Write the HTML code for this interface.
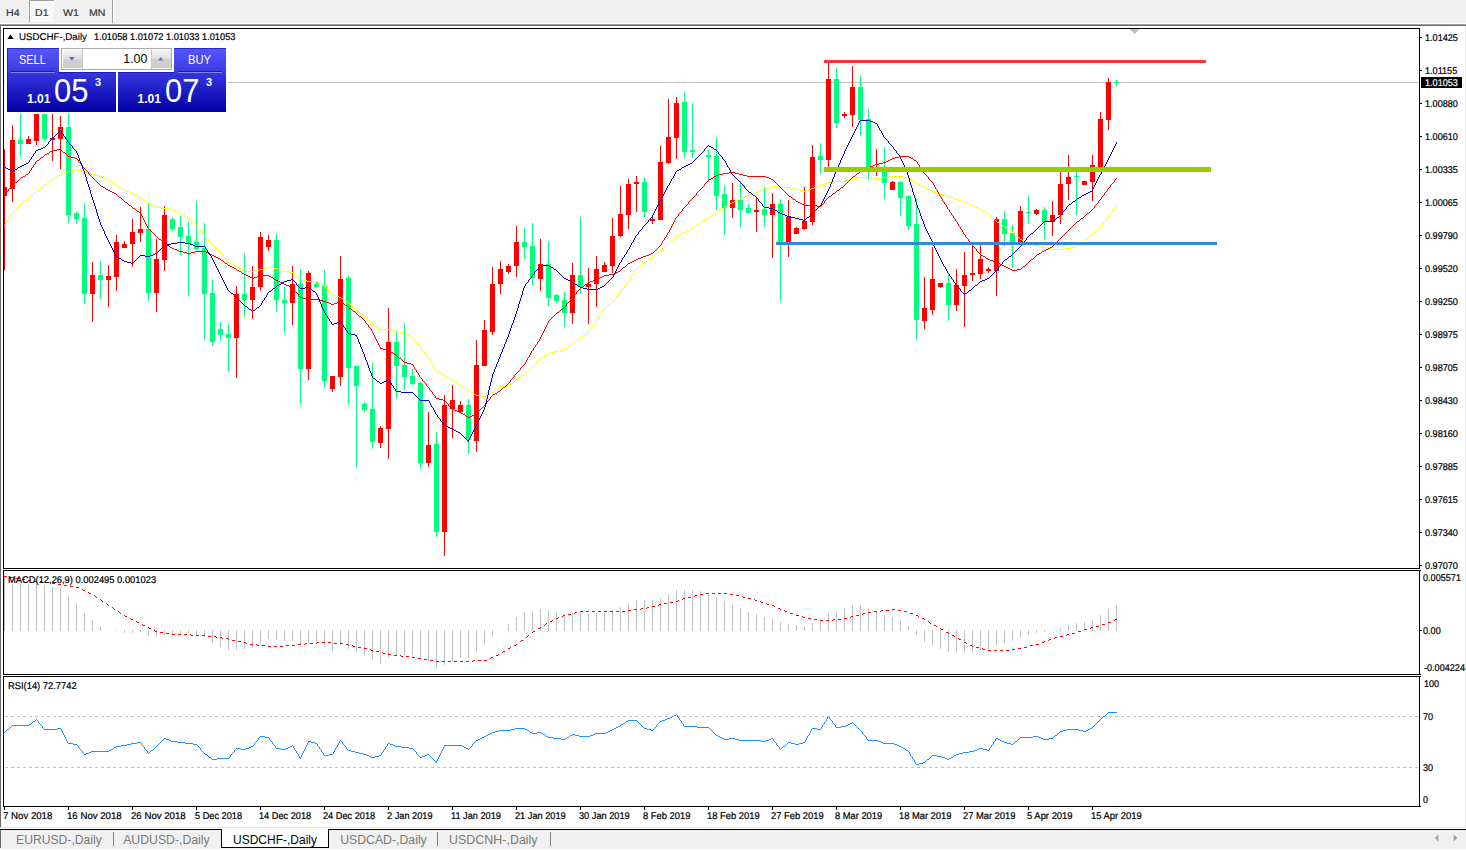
<!DOCTYPE html>
<html><head><meta charset="utf-8"><title>USDCHF-,Daily</title>
<style>
html,body{margin:0;padding:0;}
body{width:1466px;height:851px;overflow:hidden;background:#fff;position:relative;font-family:"Liberation Sans",sans-serif;}
.t{position:absolute;white-space:nowrap;font-family:"Liberation Sans",sans-serif;}
.k{-webkit-text-stroke:0.22px #000;text-rendering:geometricPrecision;}
.abs{position:absolute;}
#tb{left:0;top:0;width:1466px;height:23px;background:#f0f0f0;}
.tf{position:absolute;top:8.7px;font-size:9.8px;line-height:9.8px;color:#383838;text-rendering:geometricPrecision;-webkit-text-stroke:0.2px #383838;transform:scaleX(1.08);transform-origin:0 0;white-space:nowrap;}
.tab{position:absolute;top:833.2px;font-size:12px;line-height:15px;color:#7a7a7a;}
.sep{position:absolute;top:832px;width:1px;height:14px;background:#808080;}
</style></head><body>
<!-- top toolbar -->
<div class="abs" id="tb"></div>
<div class="abs" style="left:0;top:23px;width:1466px;height:1px;background:#f8f8f8"></div>
<div class="abs" style="left:0;top:24px;width:1466px;height:1px;background:#a0a0a0"></div>
<div class="abs" style="left:0;top:25px;width:1466px;height:1px;background:#696969"></div>
<div class="abs" style="left:29px;top:0;width:25px;height:22px;background:#f8f8f8;border-top:1px solid #a0a0a0;border-left:1px solid #a0a0a0;box-sizing:border-box"></div>
<div class="tf" style="left:5.9px">H4</div><div class="tf" style="left:35px">D1</div><div class="tf" style="left:63px">W1</div><div class="tf" style="left:88.9px">MN</div>
<div class="abs" style="left:112px;top:0;width:1px;height:23px;background:#a0a0a0"></div>
<div class="abs" style="left:113px;top:0;width:1px;height:23px;background:#fff"></div>
<!-- window left edge -->
<div class="abs" style="left:0;top:25px;width:1px;height:802px;background:#696969"></div>
<div class="abs" style="left:1465px;top:26px;width:1px;height:802px;background:#e3e3e3"></div>
<svg class="abs" style="left:0;top:0" width="1466" height="851" viewBox="0 0 1466 851" shape-rendering="crispEdges">
<rect x="4" y="82" width="1415" height="1" fill="#c0c0c0"/>
<rect x="4" y="149" width="1" height="121" fill="#ff0000"/>
<rect x="4" y="187" width="3" height="9" fill="#ff0000"/>
<rect x="12" y="125" width="1" height="77" fill="#ff0000"/>
<rect x="10" y="140" width="5" height="49" fill="#ff0000"/>
<rect x="20" y="114" width="1" height="43" fill="#00ff7f"/>
<rect x="18" y="140" width="5" height="4" fill="#00ff7f"/>
<rect x="28" y="136" width="1" height="8" fill="#ff0000"/>
<rect x="26" y="139" width="5" height="5" fill="#ff0000"/>
<rect x="36" y="114" width="1" height="31" fill="#ff0000"/>
<rect x="34" y="114" width="5" height="27" fill="#ff0000"/>
<rect x="44" y="114" width="1" height="27" fill="#00ff7f"/>
<rect x="42" y="114" width="5" height="25" fill="#00ff7f"/>
<rect x="52" y="114" width="1" height="47" fill="#ff0000"/>
<rect x="50" y="138" width="5" height="2" fill="#ff0000"/>
<rect x="60" y="116" width="1" height="53" fill="#ff0000"/>
<rect x="58" y="127" width="5" height="12" fill="#ff0000"/>
<rect x="68" y="114" width="1" height="109" fill="#00ff7f"/>
<rect x="66" y="127" width="5" height="88" fill="#00ff7f"/>
<rect x="76" y="211" width="1" height="13" fill="#00ff7f"/>
<rect x="74" y="213" width="5" height="6" fill="#00ff7f"/>
<rect x="84" y="203" width="1" height="101" fill="#00ff7f"/>
<rect x="82" y="218" width="5" height="76" fill="#00ff7f"/>
<rect x="92" y="262" width="1" height="60" fill="#ff0000"/>
<rect x="90" y="275" width="5" height="19" fill="#ff0000"/>
<rect x="100" y="261" width="1" height="38" fill="#00ff7f"/>
<rect x="98" y="275" width="5" height="5" fill="#00ff7f"/>
<rect x="108" y="265" width="1" height="42" fill="#ff0000"/>
<rect x="106" y="276" width="5" height="4" fill="#ff0000"/>
<rect x="116" y="235" width="1" height="56" fill="#ff0000"/>
<rect x="114" y="242" width="5" height="35" fill="#ff0000"/>
<rect x="124" y="241" width="1" height="7" fill="#ff0000"/>
<rect x="122" y="244" width="5" height="4" fill="#ff0000"/>
<rect x="132" y="219" width="1" height="48" fill="#ff0000"/>
<rect x="130" y="232" width="5" height="12" fill="#ff0000"/>
<rect x="140" y="207" width="1" height="35" fill="#ff0000"/>
<rect x="138" y="229" width="5" height="4" fill="#ff0000"/>
<rect x="148" y="204" width="1" height="97" fill="#00ff7f"/>
<rect x="146" y="229" width="5" height="64" fill="#00ff7f"/>
<rect x="156" y="239" width="1" height="73" fill="#ff0000"/>
<rect x="154" y="259" width="5" height="34" fill="#ff0000"/>
<rect x="164" y="206" width="1" height="65" fill="#ff0000"/>
<rect x="162" y="215" width="5" height="45" fill="#ff0000"/>
<rect x="172" y="217" width="1" height="14" fill="#00ff7f"/>
<rect x="170" y="219" width="5" height="10" fill="#00ff7f"/>
<rect x="180" y="216" width="1" height="39" fill="#00ff7f"/>
<rect x="178" y="227" width="5" height="10" fill="#00ff7f"/>
<rect x="188" y="222" width="1" height="74" fill="#00ff7f"/>
<rect x="186" y="236" width="5" height="8" fill="#00ff7f"/>
<rect x="196" y="201" width="1" height="49" fill="#00ff7f"/>
<rect x="194" y="242" width="5" height="7" fill="#00ff7f"/>
<rect x="204" y="223" width="1" height="117" fill="#00ff7f"/>
<rect x="202" y="248" width="5" height="46" fill="#00ff7f"/>
<rect x="212" y="280" width="1" height="66" fill="#00ff7f"/>
<rect x="210" y="293" width="5" height="49" fill="#00ff7f"/>
<rect x="220" y="322" width="1" height="19" fill="#00ff7f"/>
<rect x="218" y="329" width="5" height="6" fill="#00ff7f"/>
<rect x="228" y="324" width="1" height="48" fill="#00ff7f"/>
<rect x="226" y="334" width="5" height="4" fill="#00ff7f"/>
<rect x="236" y="286" width="1" height="92" fill="#ff0000"/>
<rect x="234" y="294" width="5" height="44" fill="#ff0000"/>
<rect x="244" y="253" width="1" height="64" fill="#00ff7f"/>
<rect x="242" y="294" width="5" height="6" fill="#00ff7f"/>
<rect x="252" y="266" width="1" height="53" fill="#ff0000"/>
<rect x="250" y="287" width="5" height="13" fill="#ff0000"/>
<rect x="260" y="232" width="1" height="59" fill="#ff0000"/>
<rect x="258" y="237" width="5" height="50" fill="#ff0000"/>
<rect x="268" y="235" width="1" height="16" fill="#ff0000"/>
<rect x="266" y="240" width="5" height="7" fill="#ff0000"/>
<rect x="276" y="234" width="1" height="78" fill="#00ff7f"/>
<rect x="274" y="240" width="5" height="60" fill="#00ff7f"/>
<rect x="284" y="287" width="1" height="46" fill="#00ff7f"/>
<rect x="282" y="300" width="5" height="3" fill="#00ff7f"/>
<rect x="292" y="266" width="1" height="59" fill="#ff0000"/>
<rect x="290" y="284" width="5" height="19" fill="#ff0000"/>
<rect x="300" y="269" width="1" height="136" fill="#00ff7f"/>
<rect x="298" y="284" width="5" height="85" fill="#00ff7f"/>
<rect x="308" y="271" width="1" height="109" fill="#ff0000"/>
<rect x="306" y="273" width="5" height="96" fill="#ff0000"/>
<rect x="316" y="282" width="1" height="6" fill="#00ff7f"/>
<rect x="314" y="284" width="5" height="3" fill="#00ff7f"/>
<rect x="324" y="270" width="1" height="118" fill="#00ff7f"/>
<rect x="322" y="286" width="5" height="95" fill="#00ff7f"/>
<rect x="332" y="376" width="1" height="16" fill="#ff0000"/>
<rect x="330" y="376" width="5" height="13" fill="#ff0000"/>
<rect x="340" y="256" width="1" height="130" fill="#ff0000"/>
<rect x="338" y="279" width="5" height="98" fill="#ff0000"/>
<rect x="348" y="276" width="1" height="129" fill="#00ff7f"/>
<rect x="346" y="278" width="5" height="90" fill="#00ff7f"/>
<rect x="356" y="366" width="1" height="101" fill="#00ff7f"/>
<rect x="354" y="366" width="5" height="20" fill="#00ff7f"/>
<rect x="364" y="402" width="1" height="10" fill="#00ff7f"/>
<rect x="362" y="404" width="5" height="6" fill="#00ff7f"/>
<rect x="372" y="363" width="1" height="86" fill="#00ff7f"/>
<rect x="370" y="409" width="5" height="33" fill="#00ff7f"/>
<rect x="380" y="426" width="1" height="22" fill="#ff0000"/>
<rect x="378" y="428" width="5" height="15" fill="#ff0000"/>
<rect x="388" y="308" width="1" height="151" fill="#ff0000"/>
<rect x="386" y="342" width="5" height="87" fill="#ff0000"/>
<rect x="396" y="332" width="1" height="66" fill="#00ff7f"/>
<rect x="394" y="342" width="5" height="24" fill="#00ff7f"/>
<rect x="404" y="323" width="1" height="67" fill="#00ff7f"/>
<rect x="402" y="365" width="5" height="12" fill="#00ff7f"/>
<rect x="412" y="369" width="1" height="16" fill="#00ff7f"/>
<rect x="410" y="376" width="5" height="8" fill="#00ff7f"/>
<rect x="420" y="382" width="1" height="87" fill="#00ff7f"/>
<rect x="418" y="383" width="5" height="80" fill="#00ff7f"/>
<rect x="428" y="412" width="1" height="55" fill="#ff0000"/>
<rect x="426" y="445" width="5" height="18" fill="#ff0000"/>
<rect x="436" y="432" width="1" height="105" fill="#00ff7f"/>
<rect x="434" y="444" width="5" height="88" fill="#00ff7f"/>
<rect x="444" y="395" width="1" height="161" fill="#ff0000"/>
<rect x="442" y="405" width="5" height="127" fill="#ff0000"/>
<rect x="452" y="385" width="1" height="53" fill="#ff0000"/>
<rect x="450" y="400" width="5" height="9" fill="#ff0000"/>
<rect x="460" y="401" width="1" height="11" fill="#ff0000"/>
<rect x="458" y="405" width="5" height="7" fill="#ff0000"/>
<rect x="468" y="399" width="1" height="55" fill="#00ff7f"/>
<rect x="466" y="405" width="5" height="35" fill="#00ff7f"/>
<rect x="476" y="340" width="1" height="112" fill="#ff0000"/>
<rect x="474" y="365" width="5" height="76" fill="#ff0000"/>
<rect x="484" y="320" width="1" height="46" fill="#ff0000"/>
<rect x="482" y="330" width="5" height="36" fill="#ff0000"/>
<rect x="492" y="267" width="1" height="68" fill="#ff0000"/>
<rect x="490" y="284" width="5" height="48" fill="#ff0000"/>
<rect x="500" y="261" width="1" height="33" fill="#ff0000"/>
<rect x="498" y="269" width="5" height="15" fill="#ff0000"/>
<rect x="508" y="264" width="1" height="10" fill="#ff0000"/>
<rect x="506" y="266" width="5" height="6" fill="#ff0000"/>
<rect x="516" y="226" width="1" height="51" fill="#ff0000"/>
<rect x="514" y="242" width="5" height="24" fill="#ff0000"/>
<rect x="524" y="228" width="1" height="31" fill="#00ff7f"/>
<rect x="522" y="242" width="5" height="5" fill="#00ff7f"/>
<rect x="532" y="223" width="1" height="62" fill="#00ff7f"/>
<rect x="530" y="246" width="5" height="32" fill="#00ff7f"/>
<rect x="540" y="239" width="1" height="52" fill="#ff0000"/>
<rect x="538" y="264" width="5" height="15" fill="#ff0000"/>
<rect x="548" y="242" width="1" height="64" fill="#00ff7f"/>
<rect x="546" y="264" width="5" height="34" fill="#00ff7f"/>
<rect x="556" y="294" width="1" height="9" fill="#00ff7f"/>
<rect x="554" y="295" width="5" height="6" fill="#00ff7f"/>
<rect x="564" y="292" width="1" height="35" fill="#00ff7f"/>
<rect x="562" y="300" width="5" height="13" fill="#00ff7f"/>
<rect x="572" y="263" width="1" height="61" fill="#ff0000"/>
<rect x="570" y="275" width="5" height="38" fill="#ff0000"/>
<rect x="580" y="217" width="1" height="77" fill="#00ff7f"/>
<rect x="578" y="275" width="5" height="12" fill="#00ff7f"/>
<rect x="588" y="268" width="1" height="56" fill="#ff0000"/>
<rect x="586" y="284" width="5" height="3" fill="#ff0000"/>
<rect x="596" y="256" width="1" height="51" fill="#ff0000"/>
<rect x="594" y="269" width="5" height="15" fill="#ff0000"/>
<rect x="604" y="262" width="1" height="10" fill="#ff0000"/>
<rect x="602" y="265" width="5" height="7" fill="#ff0000"/>
<rect x="612" y="218" width="1" height="55" fill="#ff0000"/>
<rect x="610" y="236" width="5" height="30" fill="#ff0000"/>
<rect x="620" y="186" width="1" height="51" fill="#ff0000"/>
<rect x="618" y="214" width="5" height="22" fill="#ff0000"/>
<rect x="628" y="179" width="1" height="50" fill="#ff0000"/>
<rect x="626" y="184" width="5" height="31" fill="#ff0000"/>
<rect x="636" y="176" width="1" height="36" fill="#ff0000"/>
<rect x="634" y="182" width="5" height="2" fill="#ff0000"/>
<rect x="644" y="178" width="1" height="39" fill="#00ff7f"/>
<rect x="642" y="182" width="5" height="30" fill="#00ff7f"/>
<rect x="652" y="217" width="1" height="7" fill="#ff0000"/>
<rect x="650" y="219" width="5" height="2" fill="#ff0000"/>
<rect x="660" y="146" width="1" height="74" fill="#ff0000"/>
<rect x="658" y="162" width="5" height="58" fill="#ff0000"/>
<rect x="668" y="99" width="1" height="65" fill="#ff0000"/>
<rect x="666" y="137" width="5" height="26" fill="#ff0000"/>
<rect x="676" y="97" width="1" height="62" fill="#ff0000"/>
<rect x="674" y="103" width="5" height="35" fill="#ff0000"/>
<rect x="684" y="92" width="1" height="66" fill="#00ff7f"/>
<rect x="682" y="102" width="5" height="50" fill="#00ff7f"/>
<rect x="692" y="103" width="1" height="55" fill="#00ff7f"/>
<rect x="690" y="150" width="5" height="2" fill="#00ff7f"/>
<rect x="708" y="150" width="1" height="32" fill="#00ff7f"/>
<rect x="706" y="155" width="5" height="2" fill="#00ff7f"/>
<rect x="716" y="138" width="1" height="72" fill="#00ff7f"/>
<rect x="714" y="156" width="5" height="40" fill="#00ff7f"/>
<rect x="724" y="186" width="1" height="49" fill="#00ff7f"/>
<rect x="722" y="194" width="5" height="14" fill="#00ff7f"/>
<rect x="732" y="183" width="1" height="35" fill="#ff0000"/>
<rect x="730" y="200" width="5" height="8" fill="#ff0000"/>
<rect x="740" y="181" width="1" height="46" fill="#00ff7f"/>
<rect x="738" y="200" width="5" height="10" fill="#00ff7f"/>
<rect x="748" y="204" width="1" height="9" fill="#00ff7f"/>
<rect x="746" y="208" width="5" height="5" fill="#00ff7f"/>
<rect x="756" y="198" width="1" height="34" fill="#ff0000"/>
<rect x="754" y="210" width="5" height="2" fill="#ff0000"/>
<rect x="764" y="187" width="1" height="40" fill="#00ff7f"/>
<rect x="762" y="209" width="5" height="6" fill="#00ff7f"/>
<rect x="772" y="193" width="1" height="65" fill="#ff0000"/>
<rect x="770" y="204" width="5" height="11" fill="#ff0000"/>
<rect x="780" y="199" width="1" height="102" fill="#00ff7f"/>
<rect x="778" y="204" width="5" height="38" fill="#00ff7f"/>
<rect x="788" y="200" width="1" height="57" fill="#ff0000"/>
<rect x="786" y="217" width="5" height="25" fill="#ff0000"/>
<rect x="796" y="227" width="1" height="7" fill="#ff0000"/>
<rect x="794" y="228" width="5" height="6" fill="#ff0000"/>
<rect x="804" y="187" width="1" height="43" fill="#ff0000"/>
<rect x="802" y="221" width="5" height="8" fill="#ff0000"/>
<rect x="812" y="145" width="1" height="80" fill="#ff0000"/>
<rect x="810" y="157" width="5" height="65" fill="#ff0000"/>
<rect x="820" y="143" width="1" height="31" fill="#00ff7f"/>
<rect x="818" y="156" width="5" height="4" fill="#00ff7f"/>
<rect x="828" y="62" width="1" height="105" fill="#ff0000"/>
<rect x="826" y="79" width="5" height="81" fill="#ff0000"/>
<rect x="836" y="68" width="1" height="60" fill="#00ff7f"/>
<rect x="834" y="79" width="5" height="44" fill="#00ff7f"/>
<rect x="844" y="112" width="1" height="6" fill="#ff0000"/>
<rect x="842" y="114" width="5" height="2" fill="#ff0000"/>
<rect x="852" y="66" width="1" height="61" fill="#ff0000"/>
<rect x="850" y="87" width="5" height="28" fill="#ff0000"/>
<rect x="860" y="75" width="1" height="61" fill="#00ff7f"/>
<rect x="858" y="87" width="5" height="33" fill="#00ff7f"/>
<rect x="868" y="109" width="1" height="71" fill="#00ff7f"/>
<rect x="866" y="119" width="5" height="49" fill="#00ff7f"/>
<rect x="876" y="149" width="1" height="27" fill="#ff0000"/>
<rect x="874" y="168" width="5" height="3" fill="#ff0000"/>
<rect x="884" y="147" width="1" height="52" fill="#00ff7f"/>
<rect x="882" y="172" width="5" height="11" fill="#00ff7f"/>
<rect x="892" y="181" width="1" height="9" fill="#ff0000"/>
<rect x="890" y="182" width="5" height="8" fill="#ff0000"/>
<rect x="900" y="181" width="1" height="35" fill="#00ff7f"/>
<rect x="898" y="182" width="5" height="16" fill="#00ff7f"/>
<rect x="908" y="195" width="1" height="35" fill="#00ff7f"/>
<rect x="906" y="196" width="5" height="30" fill="#00ff7f"/>
<rect x="916" y="199" width="1" height="141" fill="#00ff7f"/>
<rect x="914" y="224" width="5" height="96" fill="#00ff7f"/>
<rect x="924" y="277" width="1" height="52" fill="#ff0000"/>
<rect x="922" y="308" width="5" height="13" fill="#ff0000"/>
<rect x="932" y="247" width="1" height="68" fill="#ff0000"/>
<rect x="930" y="279" width="5" height="31" fill="#ff0000"/>
<rect x="940" y="283" width="1" height="5" fill="#ff0000"/>
<rect x="938" y="283" width="5" height="4" fill="#ff0000"/>
<rect x="948" y="275" width="1" height="46" fill="#00ff7f"/>
<rect x="946" y="283" width="5" height="22" fill="#00ff7f"/>
<rect x="956" y="269" width="1" height="42" fill="#ff0000"/>
<rect x="954" y="285" width="5" height="20" fill="#ff0000"/>
<rect x="964" y="252" width="1" height="75" fill="#ff0000"/>
<rect x="962" y="275" width="5" height="11" fill="#ff0000"/>
<rect x="972" y="245" width="1" height="36" fill="#ff0000"/>
<rect x="970" y="273" width="5" height="2" fill="#ff0000"/>
<rect x="980" y="245" width="1" height="34" fill="#ff0000"/>
<rect x="978" y="259" width="5" height="15" fill="#ff0000"/>
<rect x="988" y="267" width="1" height="6" fill="#ff0000"/>
<rect x="986" y="269" width="5" height="2" fill="#ff0000"/>
<rect x="996" y="217" width="1" height="79" fill="#ff0000"/>
<rect x="994" y="219" width="5" height="52" fill="#ff0000"/>
<rect x="1004" y="211" width="1" height="35" fill="#00ff7f"/>
<rect x="1002" y="219" width="5" height="15" fill="#00ff7f"/>
<rect x="1012" y="225" width="1" height="43" fill="#00ff7f"/>
<rect x="1010" y="233" width="5" height="10" fill="#00ff7f"/>
<rect x="1020" y="206" width="1" height="37" fill="#ff0000"/>
<rect x="1018" y="211" width="5" height="32" fill="#ff0000"/>
<rect x="1028" y="196" width="1" height="28" fill="#00ff7f"/>
<rect x="1026" y="212" width="5" height="1" fill="#00ff7f"/>
<rect x="1036" y="209" width="1" height="6" fill="#ff0000"/>
<rect x="1034" y="210" width="5" height="4" fill="#ff0000"/>
<rect x="1044" y="207" width="1" height="32" fill="#00ff7f"/>
<rect x="1042" y="210" width="5" height="12" fill="#00ff7f"/>
<rect x="1052" y="201" width="1" height="35" fill="#ff0000"/>
<rect x="1050" y="215" width="5" height="7" fill="#ff0000"/>
<rect x="1060" y="171" width="1" height="53" fill="#ff0000"/>
<rect x="1058" y="184" width="5" height="31" fill="#ff0000"/>
<rect x="1068" y="155" width="1" height="45" fill="#ff0000"/>
<rect x="1066" y="177" width="5" height="7" fill="#ff0000"/>
<rect x="1076" y="171" width="1" height="44" fill="#00ff7f"/>
<rect x="1074" y="176" width="5" height="1" fill="#00ff7f"/>
<rect x="1084" y="181" width="1" height="4" fill="#ff0000"/>
<rect x="1082" y="181" width="5" height="4" fill="#ff0000"/>
<rect x="1092" y="155" width="1" height="46" fill="#ff0000"/>
<rect x="1090" y="165" width="5" height="17" fill="#ff0000"/>
<rect x="1100" y="112" width="1" height="56" fill="#ff0000"/>
<rect x="1098" y="119" width="5" height="49" fill="#ff0000"/>
<rect x="1108" y="78" width="1" height="52" fill="#ff0000"/>
<rect x="1106" y="82" width="5" height="38" fill="#ff0000"/>
<rect x="1116" y="80" width="1" height="6" fill="#00ff7f"/><rect x="1114" y="82" width="5" height="1" fill="#00ff7f"/>
<path d="M75 169h3v1h-3zM71 170h4v1h-4zM78 170h3v1h-3zM67 171h4v1h-4zM81 171h2v1h-2zM65 172h2v1h-2zM83 172h4v1h-4zM62 173h3v1h-3zM87 173h4v1h-4zM60 174h2v1h-2zM91 174h4v1h-4zM58 175h2v1h-2zM95 175h4v1h-4zM57 176h1v1h-1zM99 176h3v1h-3zM889 176h14v1h-14zM55 177h2v1h-2zM102 177h2v1h-2zM857 177h16v1h-16zM881 177h8v1h-8zM903 177h4v1h-4zM53 178h2v1h-2zM104 178h2v1h-2zM851 178h6v1h-6zM873 178h8v1h-8zM907 178h2v1h-2zM52 179h1v1h-1zM106 179h2v1h-2zM849 179h2v1h-2zM909 179h2v1h-2zM51 180h1v1h-1zM108 180h1v1h-1zM846 180h3v1h-3zM911 180h2v1h-2zM49 181h2v1h-2zM109 181h2v1h-2zM833 181h13v1h-13zM913 181h1v1h-1zM48 182h1v1h-1zM111 182h2v1h-2zM827 182h6v1h-6zM914 182h2v1h-2zM47 183h1v1h-1zM113 183h1v1h-1zM825 183h2v1h-2zM916 183h2v1h-2zM45 184h2v1h-2zM114 184h2v1h-2zM822 184h3v1h-3zM918 184h2v1h-2zM44 185h1v1h-1zM116 185h1v1h-1zM819 185h3v1h-3zM920 185h2v1h-2zM43 186h1v1h-1zM117 186h2v1h-2zM771 186h6v1h-6zM817 186h2v1h-2zM922 186h2v1h-2zM41 187h2v1h-2zM119 187h2v1h-2zM769 187h2v1h-2zM777 187h14v1h-14zM814 187h3v1h-3zM924 187h2v1h-2zM40 188h1v1h-1zM121 188h1v1h-1zM766 188h3v1h-3zM791 188h4v1h-4zM811 188h3v1h-3zM926 188h2v1h-2zM39 189h1v1h-1zM122 189h2v1h-2zM763 189h3v1h-3zM795 189h4v1h-4zM809 189h2v1h-2zM928 189h2v1h-2zM37 190h2v1h-2zM124 190h2v1h-2zM761 190h2v1h-2zM799 190h4v1h-4zM806 190h3v1h-3zM930 190h2v1h-2zM36 191h1v1h-1zM126 191h3v1h-3zM758 191h3v1h-3zM803 191h3v1h-3zM932 191h2v1h-2zM35 192h1v1h-1zM129 192h2v1h-2zM755 192h3v1h-3zM934 192h3v1h-3zM34 193h1v1h-1zM131 193h2v1h-2zM753 193h2v1h-2zM937 193h2v1h-2zM33 194h1v1h-1zM133 194h2v1h-2zM750 194h3v1h-3zM939 194h4v1h-4zM31 195h2v1h-2zM135 195h2v1h-2zM747 195h3v1h-3zM943 195h4v1h-4zM30 196h1v1h-1zM137 196h1v1h-1zM745 196h2v1h-2zM947 196h3v1h-3zM29 197h1v1h-1zM138 197h2v1h-2zM742 197h3v1h-3zM950 197h3v1h-3zM28 198h1v1h-1zM140 198h1v1h-1zM740 198h2v1h-2zM953 198h2v1h-2zM27 199h1v1h-1zM141 199h2v1h-2zM738 199h2v1h-2zM955 199h3v1h-3zM25 200h2v1h-2zM143 200h2v1h-2zM736 200h2v1h-2zM958 200h3v1h-3zM24 201h1v1h-1zM145 201h1v1h-1zM734 201h2v1h-2zM961 201h2v1h-2zM23 202h1v1h-1zM146 202h2v1h-2zM732 202h2v1h-2zM963 202h3v1h-3zM21 203h2v1h-2zM148 203h2v1h-2zM730 203h2v1h-2zM966 203h3v1h-3zM20 204h1v1h-1zM150 204h2v1h-2zM729 204h1v1h-1zM969 204h2v1h-2zM19 205h1v1h-1zM152 205h2v1h-2zM727 205h2v1h-2zM971 205h3v1h-3zM1116 205h1v1h-1zM18 206h1v1h-1zM154 206h2v1h-2zM725 206h2v1h-2zM974 206h2v1h-2zM1115 206h1v2h-1zM17 207h1v1h-1zM156 207h5v1h-5zM724 207h1v1h-1zM976 207h2v1h-2zM16 208h1v2h-1zM161 208h8v1h-8zM722 208h2v1h-2zM978 208h2v1h-2zM1114 208h1v1h-1zM169 209h5v1h-5zM721 209h1v1h-1zM980 209h1v1h-1zM1113 209h1v1h-1zM15 210h1v1h-1zM174 210h2v1h-2zM719 210h2v1h-2zM981 210h2v1h-2zM1112 210h1v2h-1zM14 211h1v1h-1zM176 211h2v1h-2zM717 211h2v1h-2zM983 211h2v1h-2zM13 212h1v1h-1zM178 212h2v1h-2zM716 212h1v1h-1zM985 212h1v1h-1zM1111 212h1v1h-1zM12 213h1v1h-1zM180 213h1v1h-1zM714 213h2v1h-2zM986 213h2v1h-2zM1110 213h1v1h-1zM11 214h1v2h-1zM181 214h2v1h-2zM713 214h1v1h-1zM988 214h1v1h-1zM1109 214h1v2h-1zM183 215h2v1h-2zM711 215h2v1h-2zM989 215h1v1h-1zM10 216h1v1h-1zM185 216h1v1h-1zM709 216h2v1h-2zM990 216h1v1h-1zM1108 216h1v1h-1zM9 217h1v2h-1zM186 217h2v1h-2zM708 217h1v1h-1zM991 217h2v1h-2zM1107 217h1v1h-1zM188 218h1v1h-1zM706 218h2v1h-2zM993 218h1v1h-1zM1106 218h1v2h-1zM8 219h1v1h-1zM189 219h2v1h-2zM705 219h1v1h-1zM994 219h1v1h-1zM7 220h1v2h-1zM191 220h1v1h-1zM703 220h2v1h-2zM995 220h1v1h-1zM1105 220h1v1h-1zM192 221h1v1h-1zM701 221h2v1h-2zM996 221h1v1h-1zM1104 221h1v1h-1zM6 222h1v1h-1zM193 222h2v1h-2zM700 222h1v1h-1zM997 222h2v1h-2zM1103 222h1v1h-1zM5 223h1v2h-1zM195 223h1v1h-1zM699 223h1v1h-1zM999 223h2v1h-2zM1102 223h1v2h-1zM196 224h1v1h-1zM697 224h2v1h-2zM1001 224h1v1h-1zM4 225h1v1h-1zM197 225h1v2h-1zM696 225h1v1h-1zM1002 225h2v1h-2zM1101 225h1v1h-1zM695 226h1v1h-1zM1004 226h1v1h-1zM1100 226h1v1h-1zM198 227h1v1h-1zM693 227h2v1h-2zM1005 227h2v1h-2zM1099 227h1v1h-1zM199 228h1v1h-1zM692 228h1v1h-1zM1007 228h1v1h-1zM1098 228h1v1h-1zM200 229h1v2h-1zM690 229h2v1h-2zM1008 229h1v1h-1zM1097 229h1v1h-1zM688 230h2v1h-2zM1009 230h2v1h-2zM1096 230h1v1h-1zM201 231h1v1h-1zM686 231h2v1h-2zM1011 231h1v1h-1zM1095 231h1v1h-1zM202 232h1v1h-1zM684 232h2v1h-2zM1012 232h1v1h-1zM1094 232h1v1h-1zM203 233h1v2h-1zM682 233h2v1h-2zM1013 233h1v1h-1zM1093 233h1v1h-1zM680 234h2v1h-2zM1014 234h1v1h-1zM1092 234h1v1h-1zM204 235h1v1h-1zM678 235h2v1h-2zM1015 235h2v1h-2zM1091 235h1v1h-1zM205 236h1v1h-1zM676 236h2v1h-2zM1017 236h1v1h-1zM1089 236h2v1h-2zM206 237h1v1h-1zM675 237h1v1h-1zM1018 237h1v1h-1zM1088 237h1v1h-1zM207 238h1v1h-1zM674 238h1v1h-1zM1019 238h1v1h-1zM1087 238h1v1h-1zM208 239h1v2h-1zM673 239h1v1h-1zM1020 239h2v1h-2zM1085 239h2v1h-2zM671 240h2v1h-2zM1022 240h2v1h-2zM1084 240h1v1h-1zM209 241h1v1h-1zM670 241h1v1h-1zM1024 241h2v1h-2zM1083 241h1v1h-1zM210 242h1v1h-1zM669 242h1v1h-1zM1026 242h2v1h-2zM1081 242h2v1h-2zM211 243h1v1h-1zM668 243h1v1h-1zM1028 243h4v1h-4zM1080 243h1v1h-1zM212 244h1v1h-1zM667 244h1v1h-1zM1032 244h3v1h-3zM1079 244h1v1h-1zM213 245h1v1h-1zM666 245h1v1h-1zM1035 245h4v1h-4zM1077 245h2v1h-2zM214 246h1v1h-1zM665 246h1v1h-1zM1039 246h4v1h-4zM1075 246h2v1h-2zM215 247h1v1h-1zM663 247h2v1h-2zM1043 247h4v1h-4zM1071 247h4v1h-4zM216 248h1v1h-1zM662 248h1v1h-1zM1047 248h4v1h-4zM1065 248h6v1h-6zM217 249h1v1h-1zM661 249h1v1h-1zM1051 249h14v1h-14zM218 250h1v1h-1zM660 250h1v1h-1zM219 251h1v1h-1zM659 251h1v1h-1zM220 252h1v1h-1zM657 252h2v1h-2zM221 253h1v1h-1zM656 253h1v1h-1zM222 254h1v2h-1zM655 254h1v1h-1zM653 255h2v1h-2zM223 256h1v1h-1zM652 256h1v1h-1zM224 257h1v1h-1zM651 257h1v1h-1zM225 258h1v1h-1zM649 258h2v1h-2zM226 259h1v2h-1zM648 259h1v1h-1zM647 260h1v1h-1zM227 261h1v1h-1zM645 261h2v1h-2zM228 262h2v1h-2zM644 262h1v1h-1zM230 263h2v1h-2zM643 263h1v1h-1zM232 264h2v1h-2zM642 264h1v1h-1zM234 265h2v1h-2zM641 265h1v1h-1zM236 266h1v1h-1zM639 266h2v1h-2zM237 267h2v1h-2zM267 267h6v1h-6zM638 267h1v1h-1zM239 268h2v1h-2zM263 268h4v1h-4zM273 268h5v1h-5zM637 268h1v1h-1zM241 269h1v1h-1zM259 269h4v1h-4zM278 269h3v1h-3zM636 269h1v1h-1zM242 270h2v1h-2zM255 270h4v1h-4zM281 270h2v1h-2zM635 270h1v2h-1zM244 271h11v1h-11zM283 271h6v1h-6zM289 272h4v1h-4zM634 272h1v1h-1zM293 273h1v1h-1zM633 273h1v2h-1zM294 274h1v1h-1zM295 275h2v1h-2zM632 275h1v1h-1zM297 276h1v1h-1zM631 276h1v2h-1zM298 277h1v1h-1zM299 278h1v1h-1zM630 278h1v1h-1zM300 279h3v1h-3zM629 279h1v2h-1zM303 280h4v1h-4zM307 281h10v1h-10zM628 281h1v1h-1zM317 282h2v1h-2zM627 282h1v2h-1zM319 283h2v1h-2zM321 284h1v1h-1zM626 284h1v1h-1zM322 285h2v1h-2zM625 285h1v1h-1zM324 286h1v1h-1zM624 286h1v2h-1zM325 287h1v1h-1zM326 288h1v1h-1zM623 288h1v1h-1zM327 289h1v1h-1zM622 289h1v1h-1zM328 290h1v1h-1zM621 290h1v2h-1zM329 291h1v1h-1zM330 292h1v1h-1zM620 292h1v1h-1zM331 293h1v1h-1zM619 293h1v1h-1zM332 294h2v1h-2zM618 294h1v1h-1zM334 295h3v1h-3zM617 295h1v1h-1zM337 296h2v1h-2zM616 296h1v2h-1zM339 297h2v1h-2zM341 298h2v1h-2zM615 298h1v1h-1zM343 299h2v1h-2zM614 299h1v1h-1zM345 300h1v1h-1zM613 300h1v1h-1zM346 301h2v1h-2zM612 301h1v1h-1zM348 302h1v1h-1zM611 302h1v1h-1zM349 303h1v1h-1zM610 303h1v1h-1zM350 304h1v1h-1zM609 304h1v1h-1zM351 305h1v1h-1zM608 305h1v1h-1zM352 306h1v1h-1zM607 306h1v1h-1zM353 307h1v1h-1zM606 307h1v1h-1zM354 308h1v1h-1zM605 308h1v1h-1zM355 309h1v1h-1zM604 309h1v1h-1zM356 310h1v1h-1zM603 310h1v2h-1zM357 311h2v1h-2zM359 312h1v1h-1zM602 312h1v1h-1zM360 313h1v1h-1zM601 313h1v2h-1zM361 314h2v1h-2zM363 315h1v1h-1zM600 315h1v1h-1zM364 316h1v1h-1zM599 316h1v2h-1zM365 317h1v1h-1zM366 318h1v1h-1zM598 318h1v1h-1zM367 319h1v1h-1zM597 319h1v2h-1zM368 320h1v1h-1zM369 321h1v1h-1zM596 321h1v1h-1zM370 322h1v1h-1zM595 322h1v1h-1zM371 323h1v1h-1zM594 323h1v2h-1zM372 324h1v1h-1zM373 325h2v1h-2zM593 325h1v1h-1zM375 326h2v1h-2zM592 326h1v1h-1zM377 327h1v1h-1zM591 327h1v1h-1zM378 328h2v1h-2zM590 328h1v2h-1zM380 329h11v1h-11zM391 330h4v1h-4zM589 330h1v1h-1zM395 331h4v1h-4zM588 331h1v1h-1zM399 332h4v1h-4zM587 332h1v1h-1zM403 333h3v1h-3zM586 333h1v1h-1zM406 334h2v1h-2zM585 334h1v1h-1zM408 335h2v1h-2zM583 335h2v1h-2zM410 336h2v1h-2zM582 336h1v1h-1zM412 337h1v1h-1zM581 337h1v1h-1zM413 338h1v1h-1zM580 338h1v1h-1zM414 339h1v2h-1zM578 339h2v1h-2zM577 340h1v1h-1zM415 341h1v1h-1zM575 341h2v1h-2zM416 342h1v1h-1zM573 342h2v1h-2zM417 343h1v1h-1zM572 343h1v1h-1zM418 344h1v2h-1zM571 344h1v1h-1zM569 345h2v1h-2zM419 346h1v1h-1zM568 346h1v1h-1zM420 347h1v1h-1zM567 347h1v1h-1zM421 348h1v2h-1zM565 348h2v1h-2zM563 349h2v1h-2zM422 350h1v1h-1zM559 350h4v1h-4zM423 351h1v1h-1zM555 351h4v1h-4zM424 352h1v2h-1zM551 352h4v1h-4zM548 353h3v1h-3zM425 354h1v1h-1zM546 354h2v1h-2zM426 355h1v1h-1zM545 355h1v1h-1zM427 356h1v2h-1zM543 356h2v1h-2zM541 357h2v1h-2zM428 358h1v1h-1zM540 358h1v1h-1zM429 359h1v2h-1zM539 359h1v1h-1zM538 360h1v1h-1zM430 361h1v2h-1zM537 361h1v1h-1zM536 362h1v2h-1zM431 363h1v1h-1zM432 364h1v2h-1zM535 364h1v1h-1zM534 365h1v1h-1zM433 366h1v1h-1zM533 366h1v1h-1zM434 367h1v2h-1zM532 367h1v1h-1zM531 368h1v1h-1zM435 369h1v2h-1zM529 369h2v1h-2zM528 370h1v1h-1zM436 371h2v1h-2zM527 371h1v1h-1zM438 372h2v1h-2zM525 372h2v1h-2zM440 373h2v1h-2zM524 373h1v1h-1zM442 374h2v1h-2zM523 374h1v1h-1zM444 375h1v1h-1zM521 375h2v1h-2zM445 376h2v1h-2zM520 376h1v1h-1zM447 377h2v1h-2zM519 377h1v1h-1zM449 378h1v1h-1zM517 378h2v1h-2zM450 379h2v1h-2zM516 379h1v1h-1zM452 380h1v1h-1zM515 380h1v1h-1zM453 381h2v1h-2zM514 381h1v1h-1zM455 382h2v1h-2zM513 382h1v1h-1zM457 383h1v1h-1zM511 383h2v1h-2zM458 384h2v1h-2zM510 384h1v1h-1zM460 385h1v1h-1zM509 385h1v1h-1zM461 386h2v1h-2zM500 386h9v1h-9zM463 387h2v1h-2zM499 387h1v1h-1zM465 388h1v1h-1zM497 388h2v1h-2zM466 389h2v1h-2zM496 389h1v1h-1zM468 390h1v1h-1zM495 390h1v1h-1zM469 391h2v1h-2zM493 391h2v1h-2zM471 392h2v1h-2zM492 392h1v1h-1zM473 393h1v1h-1zM490 393h2v1h-2zM474 394h2v1h-2zM488 394h2v1h-2zM476 395h5v1h-5zM486 395h2v1h-2zM481 396h5v1h-5z" fill="#ffff00"/>
<path d="M57 149h4v1h-4zM52 150h5v1h-5zM61 150h1v1h-1zM50 151h2v1h-2zM62 151h1v1h-1zM49 152h1v1h-1zM63 152h2v1h-2zM47 153h2v1h-2zM65 153h1v1h-1zM45 154h2v1h-2zM66 154h1v1h-1zM44 155h1v1h-1zM67 155h1v1h-1zM43 156h1v1h-1zM68 156h3v1h-3zM899 156h10v1h-10zM41 157h2v1h-2zM71 157h4v1h-4zM895 157h4v1h-4zM909 157h2v1h-2zM40 158h1v1h-1zM75 158h2v1h-2zM892 158h3v1h-3zM911 158h2v1h-2zM39 159h1v1h-1zM77 159h1v1h-1zM890 159h2v1h-2zM913 159h1v1h-1zM37 160h2v1h-2zM78 160h1v2h-1zM888 160h2v1h-2zM914 160h2v1h-2zM36 161h1v1h-1zM886 161h2v1h-2zM916 161h1v1h-1zM35 162h1v2h-1zM79 162h1v1h-1zM883 162h3v1h-3zM917 162h1v2h-1zM80 163h1v1h-1zM879 163h4v1h-4zM34 164h1v1h-1zM81 164h1v1h-1zM875 164h4v1h-4zM918 164h1v1h-1zM33 165h1v2h-1zM82 165h1v2h-1zM873 165h2v1h-2zM919 165h1v2h-1zM870 166h3v1h-3zM32 167h1v1h-1zM83 167h1v1h-1zM868 167h2v1h-2zM920 167h1v1h-1zM31 168h1v2h-1zM84 168h1v1h-1zM866 168h2v1h-2zM921 168h1v2h-1zM85 169h1v1h-1zM864 169h2v1h-2zM30 170h1v1h-1zM86 170h1v1h-1zM862 170h2v1h-2zM922 170h1v1h-1zM29 171h1v2h-1zM87 171h1v1h-1zM860 171h2v1h-2zM923 171h1v2h-1zM88 172h1v2h-1zM729 172h6v1h-6zM859 172h1v1h-1zM28 173h1v1h-1zM723 173h6v1h-6zM735 173h4v1h-4zM857 173h2v1h-2zM924 173h1v1h-1zM26 174h2v1h-2zM89 174h1v1h-1zM719 174h4v1h-4zM739 174h4v1h-4zM856 174h1v1h-1zM925 174h1v1h-1zM25 175h1v1h-1zM90 175h1v1h-1zM716 175h3v1h-3zM743 175h4v1h-4zM855 175h1v1h-1zM926 175h1v1h-1zM23 176h2v1h-2zM91 176h1v1h-1zM714 176h2v1h-2zM747 176h19v1h-19zM853 176h2v1h-2zM927 176h1v1h-1zM21 177h2v1h-2zM92 177h1v1h-1zM713 177h1v1h-1zM766 177h3v1h-3zM852 177h1v1h-1zM928 177h1v2h-1zM20 178h1v1h-1zM93 178h1v1h-1zM711 178h2v1h-2zM769 178h2v1h-2zM851 178h1v1h-1zM1116 178h1v1h-1zM19 179h1v1h-1zM94 179h1v1h-1zM709 179h2v1h-2zM771 179h2v1h-2zM850 179h1v1h-1zM929 179h1v1h-1zM1115 179h1v1h-1zM18 180h1v1h-1zM95 180h1v1h-1zM708 180h1v1h-1zM773 180h1v1h-1zM849 180h1v1h-1zM930 180h1v1h-1zM1114 180h1v2h-1zM17 181h1v1h-1zM96 181h1v1h-1zM707 181h1v1h-1zM774 181h1v1h-1zM848 181h1v1h-1zM931 181h1v1h-1zM15 182h2v1h-2zM97 182h1v1h-1zM706 182h1v1h-1zM775 182h1v1h-1zM847 182h1v1h-1zM932 182h1v1h-1zM1113 182h1v1h-1zM14 183h1v1h-1zM98 183h1v1h-1zM705 183h1v1h-1zM776 183h1v1h-1zM846 183h1v1h-1zM933 183h1v2h-1zM1112 183h1v1h-1zM13 184h1v1h-1zM99 184h1v1h-1zM704 184h1v2h-1zM777 184h1v1h-1zM845 184h1v1h-1zM1111 184h1v1h-1zM12 185h1v1h-1zM100 185h1v1h-1zM778 185h1v1h-1zM844 185h1v1h-1zM934 185h1v2h-1zM1110 185h1v2h-1zM11 186h1v1h-1zM101 186h2v1h-2zM703 186h1v1h-1zM779 186h1v1h-1zM843 186h1v1h-1zM10 187h1v1h-1zM103 187h2v1h-2zM702 187h1v1h-1zM780 187h1v1h-1zM841 187h2v1h-2zM935 187h1v2h-1zM1109 187h1v1h-1zM9 188h1v1h-1zM105 188h1v1h-1zM701 188h1v1h-1zM781 188h1v1h-1zM840 188h1v1h-1zM1108 188h1v1h-1zM8 189h1v2h-1zM106 189h2v1h-2zM700 189h1v1h-1zM782 189h1v1h-1zM839 189h1v1h-1zM936 189h1v1h-1zM1107 189h1v2h-1zM108 190h2v1h-2zM699 190h1v1h-1zM783 190h1v1h-1zM837 190h2v1h-2zM937 190h1v2h-1zM7 191h1v1h-1zM110 191h2v1h-2zM698 191h1v1h-1zM784 191h1v1h-1zM836 191h1v1h-1zM1106 191h1v1h-1zM6 192h1v1h-1zM112 192h2v1h-2zM697 192h1v1h-1zM785 192h1v1h-1zM835 192h1v1h-1zM938 192h1v2h-1zM1105 192h1v1h-1zM5 193h1v1h-1zM114 193h2v1h-2zM696 193h1v2h-1zM786 193h1v1h-1zM833 193h2v1h-2zM1104 193h1v2h-1zM4 194h1v1h-1zM116 194h1v1h-1zM787 194h1v1h-1zM832 194h1v1h-1zM939 194h1v2h-1zM117 195h1v1h-1zM695 195h1v1h-1zM788 195h1v1h-1zM831 195h1v1h-1zM1103 195h1v1h-1zM118 196h1v1h-1zM694 196h1v1h-1zM789 196h2v1h-2zM829 196h2v1h-2zM940 196h1v1h-1zM1102 196h1v1h-1zM119 197h2v1h-2zM693 197h1v1h-1zM791 197h1v1h-1zM828 197h1v1h-1zM941 197h1v2h-1zM1101 197h1v2h-1zM121 198h1v1h-1zM692 198h1v1h-1zM792 198h1v1h-1zM827 198h1v1h-1zM122 199h1v1h-1zM691 199h1v1h-1zM793 199h2v1h-2zM826 199h1v1h-1zM942 199h1v2h-1zM1100 199h1v1h-1zM123 200h1v1h-1zM690 200h1v1h-1zM795 200h1v1h-1zM825 200h1v1h-1zM1099 200h1v1h-1zM124 201h1v1h-1zM689 201h1v1h-1zM796 201h2v1h-2zM824 201h1v2h-1zM943 201h1v1h-1zM1098 201h1v2h-1zM125 202h2v1h-2zM688 202h1v2h-1zM798 202h2v1h-2zM944 202h1v2h-1zM127 203h1v1h-1zM800 203h2v1h-2zM823 203h1v1h-1zM1097 203h1v1h-1zM128 204h1v1h-1zM687 204h1v1h-1zM802 204h2v1h-2zM822 204h1v1h-1zM945 204h1v1h-1zM1096 204h1v1h-1zM129 205h2v1h-2zM686 205h1v1h-1zM804 205h13v1h-13zM821 205h1v1h-1zM946 205h1v2h-1zM1095 205h1v1h-1zM131 206h1v1h-1zM685 206h1v1h-1zM817 206h4v1h-4zM1094 206h1v2h-1zM132 207h1v1h-1zM684 207h1v1h-1zM947 207h1v2h-1zM133 208h2v1h-2zM683 208h1v1h-1zM1093 208h1v1h-1zM135 209h1v1h-1zM682 209h1v2h-1zM948 209h1v1h-1zM1092 209h1v1h-1zM136 210h1v1h-1zM949 210h1v2h-1zM1091 210h1v1h-1zM137 211h2v1h-2zM681 211h1v1h-1zM1090 211h1v1h-1zM139 212h1v1h-1zM680 212h1v1h-1zM950 212h1v1h-1zM1089 212h1v1h-1zM140 213h1v1h-1zM679 213h1v1h-1zM951 213h1v2h-1zM1087 213h2v1h-2zM141 214h1v2h-1zM678 214h1v2h-1zM1086 214h1v1h-1zM952 215h1v1h-1zM1085 215h1v1h-1zM142 216h1v2h-1zM677 216h1v1h-1zM953 216h1v2h-1zM1084 216h1v1h-1zM676 217h1v1h-1zM1083 217h1v1h-1zM143 218h1v2h-1zM675 218h1v2h-1zM954 218h1v1h-1zM1081 218h2v1h-2zM955 219h1v2h-1zM1080 219h1v1h-1zM144 220h1v2h-1zM674 220h1v2h-1zM1079 220h1v1h-1zM956 221h1v1h-1zM1077 221h2v1h-2zM145 222h1v2h-1zM673 222h1v2h-1zM957 222h1v2h-1zM1076 222h1v1h-1zM1075 223h1v1h-1zM146 224h1v2h-1zM672 224h1v2h-1zM958 224h1v2h-1zM1074 224h1v1h-1zM1073 225h1v1h-1zM147 226h1v2h-1zM671 226h1v2h-1zM959 226h1v1h-1zM1072 226h1v1h-1zM960 227h1v2h-1zM1071 227h1v1h-1zM148 228h1v1h-1zM670 228h1v2h-1zM1070 228h1v1h-1zM149 229h1v1h-1zM961 229h1v1h-1zM1069 229h1v1h-1zM150 230h1v1h-1zM669 230h1v2h-1zM962 230h1v2h-1zM1068 230h1v1h-1zM151 231h1v1h-1zM1067 231h1v1h-1zM152 232h1v1h-1zM668 232h1v1h-1zM963 232h1v2h-1zM1066 232h1v1h-1zM153 233h1v1h-1zM667 233h1v2h-1zM1065 233h1v1h-1zM154 234h1v1h-1zM964 234h1v1h-1zM1064 234h1v1h-1zM155 235h1v1h-1zM666 235h1v2h-1zM965 235h1v2h-1zM1063 235h1v1h-1zM156 236h1v1h-1zM1062 236h1v1h-1zM157 237h1v1h-1zM665 237h1v1h-1zM966 237h1v1h-1zM1061 237h1v1h-1zM158 238h1v1h-1zM664 238h1v2h-1zM967 238h1v1h-1zM1060 238h1v1h-1zM159 239h2v1h-2zM968 239h1v2h-1zM1059 239h1v1h-1zM161 240h1v1h-1zM663 240h1v1h-1zM1058 240h1v1h-1zM162 241h1v1h-1zM662 241h1v2h-1zM969 241h1v1h-1zM1057 241h1v1h-1zM163 242h1v1h-1zM970 242h1v1h-1zM1056 242h1v1h-1zM164 243h1v1h-1zM661 243h1v2h-1zM971 243h1v2h-1zM1055 243h1v1h-1zM165 244h2v1h-2zM1054 244h1v1h-1zM167 245h2v1h-2zM660 245h1v1h-1zM972 245h1v1h-1zM1053 245h1v1h-1zM169 246h1v1h-1zM659 246h1v1h-1zM973 246h1v1h-1zM1052 246h1v1h-1zM170 247h2v1h-2zM658 247h1v1h-1zM974 247h1v1h-1zM1050 247h2v1h-2zM172 248h2v1h-2zM657 248h1v1h-1zM975 248h1v1h-1zM1048 248h2v1h-2zM174 249h3v1h-3zM656 249h1v1h-1zM976 249h1v2h-1zM1046 249h2v1h-2zM177 250h2v1h-2zM655 250h1v1h-1zM1044 250h2v1h-2zM179 251h4v1h-4zM195 251h11v1h-11zM654 251h1v1h-1zM977 251h1v1h-1zM1042 251h2v1h-2zM183 252h4v1h-4zM191 252h4v1h-4zM206 252h2v1h-2zM653 252h1v1h-1zM978 252h1v1h-1zM1041 252h1v1h-1zM187 253h4v1h-4zM208 253h2v1h-2zM651 253h2v1h-2zM979 253h1v1h-1zM1039 253h2v1h-2zM210 254h2v1h-2zM649 254h2v1h-2zM980 254h1v1h-1zM1037 254h2v1h-2zM212 255h2v1h-2zM646 255h3v1h-3zM981 255h2v1h-2zM1036 255h1v1h-1zM214 256h2v1h-2zM643 256h3v1h-3zM983 256h2v1h-2zM1035 256h1v1h-1zM216 257h2v1h-2zM641 257h2v1h-2zM985 257h1v1h-1zM1034 257h1v1h-1zM218 258h2v1h-2zM638 258h3v1h-3zM986 258h2v1h-2zM1033 258h1v1h-1zM220 259h1v1h-1zM636 259h2v1h-2zM988 259h2v1h-2zM1031 259h2v1h-2zM221 260h2v1h-2zM634 260h2v1h-2zM990 260h3v1h-3zM1030 260h1v1h-1zM223 261h1v1h-1zM632 261h2v1h-2zM993 261h2v1h-2zM1029 261h1v1h-1zM224 262h1v1h-1zM630 262h2v1h-2zM995 262h3v1h-3zM1028 262h1v1h-1zM225 263h2v1h-2zM628 263h2v1h-2zM998 263h2v1h-2zM1027 263h1v1h-1zM227 264h1v1h-1zM627 264h1v1h-1zM1000 264h2v1h-2zM1026 264h1v1h-1zM228 265h2v1h-2zM626 265h1v1h-1zM1002 265h2v1h-2zM1025 265h1v1h-1zM230 266h2v1h-2zM625 266h1v1h-1zM1004 266h2v1h-2zM1023 266h2v1h-2zM232 267h2v1h-2zM623 267h2v1h-2zM1006 267h2v1h-2zM1022 267h1v1h-1zM234 268h2v1h-2zM622 268h1v1h-1zM1008 268h2v1h-2zM1021 268h1v1h-1zM236 269h1v1h-1zM621 269h1v1h-1zM1010 269h2v1h-2zM1017 269h4v1h-4zM237 270h2v1h-2zM620 270h1v1h-1zM1012 270h5v1h-5zM239 271h2v1h-2zM618 271h2v1h-2zM241 272h1v1h-1zM616 272h2v1h-2zM242 273h2v1h-2zM614 273h2v1h-2zM244 274h2v1h-2zM609 274h5v1h-5zM246 275h2v1h-2zM259 275h10v1h-10zM604 275h5v1h-5zM248 276h2v1h-2zM257 276h2v1h-2zM269 276h2v1h-2zM602 276h2v1h-2zM250 277h2v1h-2zM254 277h3v1h-3zM271 277h2v1h-2zM600 277h2v1h-2zM252 278h2v1h-2zM273 278h1v1h-1zM598 278h2v1h-2zM274 279h2v1h-2zM595 279h3v1h-3zM276 280h2v1h-2zM593 280h2v1h-2zM278 281h2v1h-2zM590 281h3v1h-3zM280 282h2v1h-2zM588 282h2v1h-2zM282 283h2v1h-2zM587 283h1v1h-1zM284 284h2v1h-2zM585 284h2v1h-2zM286 285h3v1h-3zM584 285h1v1h-1zM289 286h2v1h-2zM583 286h1v1h-1zM291 287h2v1h-2zM581 287h2v1h-2zM293 288h1v1h-1zM580 288h1v1h-1zM294 289h1v2h-1zM579 289h1v1h-1zM578 290h1v1h-1zM295 291h1v1h-1zM577 291h1v1h-1zM296 292h1v1h-1zM576 292h1v2h-1zM297 293h1v1h-1zM298 294h1v2h-1zM575 294h1v1h-1zM574 295h1v1h-1zM299 296h1v1h-1zM573 296h1v1h-1zM300 297h3v1h-3zM572 297h1v1h-1zM303 298h4v1h-4zM571 298h1v1h-1zM307 299h12v1h-12zM570 299h1v2h-1zM319 300h4v1h-4zM323 301h3v1h-3zM339 301h2v1h-2zM569 301h1v1h-1zM326 302h3v1h-3zM337 302h2v1h-2zM341 302h2v1h-2zM568 302h1v1h-1zM329 303h2v1h-2zM334 303h3v1h-3zM343 303h1v1h-1zM567 303h1v1h-1zM331 304h3v1h-3zM344 304h1v1h-1zM566 304h1v2h-1zM345 305h2v1h-2zM347 306h1v1h-1zM565 306h1v1h-1zM348 307h1v1h-1zM564 307h1v1h-1zM349 308h2v1h-2zM563 308h1v1h-1zM351 309h1v1h-1zM561 309h2v1h-2zM352 310h1v1h-1zM560 310h1v1h-1zM353 311h2v1h-2zM559 311h1v1h-1zM355 312h1v1h-1zM557 312h2v1h-2zM356 313h1v1h-1zM556 313h1v1h-1zM357 314h1v1h-1zM555 314h1v1h-1zM358 315h1v1h-1zM554 315h1v1h-1zM359 316h2v1h-2zM553 316h1v1h-1zM361 317h1v1h-1zM552 317h1v1h-1zM362 318h1v1h-1zM551 318h1v1h-1zM363 319h1v1h-1zM550 319h1v1h-1zM364 320h1v1h-1zM549 320h1v1h-1zM365 321h1v2h-1zM548 321h1v2h-1zM366 323h1v1h-1zM547 323h1v2h-1zM367 324h1v1h-1zM368 325h1v2h-1zM546 325h1v2h-1zM369 327h1v1h-1zM545 327h1v2h-1zM370 328h1v1h-1zM371 329h1v2h-1zM544 329h1v2h-1zM372 331h1v2h-1zM543 331h1v2h-1zM373 333h1v2h-1zM542 333h1v2h-1zM374 335h1v2h-1zM541 335h1v2h-1zM375 337h1v2h-1zM540 337h1v2h-1zM376 339h1v2h-1zM539 339h1v2h-1zM377 341h1v2h-1zM538 341h1v1h-1zM537 342h1v2h-1zM378 343h1v2h-1zM536 344h1v1h-1zM379 345h1v2h-1zM535 345h1v2h-1zM380 347h1v2h-1zM534 347h1v1h-1zM381 348h2v1h-2zM533 348h1v2h-1zM383 349h4v1h-4zM387 350h2v1h-2zM532 350h1v1h-1zM389 351h2v1h-2zM531 351h1v2h-1zM391 352h2v1h-2zM393 353h1v1h-1zM530 353h1v2h-1zM394 354h2v1h-2zM396 355h1v1h-1zM529 355h1v2h-1zM397 356h1v1h-1zM398 357h1v1h-1zM528 357h1v1h-1zM399 358h2v1h-2zM527 358h1v2h-1zM401 359h1v1h-1zM402 360h1v1h-1zM526 360h1v2h-1zM403 361h1v1h-1zM404 362h3v1h-3zM525 362h1v2h-1zM407 363h4v1h-4zM411 364h2v1h-2zM524 364h1v1h-1zM413 365h1v2h-1zM523 365h1v1h-1zM522 366h1v1h-1zM414 367h1v2h-1zM521 367h1v1h-1zM520 368h1v2h-1zM415 369h1v1h-1zM416 370h1v2h-1zM519 370h1v1h-1zM518 371h1v1h-1zM417 372h1v1h-1zM517 372h1v1h-1zM418 373h1v2h-1zM516 373h1v1h-1zM515 374h1v1h-1zM419 375h1v2h-1zM514 375h1v2h-1zM420 377h1v1h-1zM513 377h1v1h-1zM421 378h1v1h-1zM512 378h1v1h-1zM422 379h1v2h-1zM511 379h1v1h-1zM510 380h1v2h-1zM423 381h1v1h-1zM424 382h1v1h-1zM509 382h1v1h-1zM425 383h1v1h-1zM508 383h1v1h-1zM426 384h1v2h-1zM507 384h1v1h-1zM506 385h1v1h-1zM427 386h1v1h-1zM505 386h1v1h-1zM428 387h1v1h-1zM503 387h2v1h-2zM429 388h1v2h-1zM502 388h1v1h-1zM501 389h1v1h-1zM430 390h1v1h-1zM500 390h1v1h-1zM431 391h1v1h-1zM498 391h2v1h-2zM432 392h1v2h-1zM497 392h1v1h-1zM495 393h2v1h-2zM433 394h1v1h-1zM493 394h2v1h-2zM434 395h1v1h-1zM492 395h1v1h-1zM435 396h1v2h-1zM491 396h1v1h-1zM490 397h1v2h-1zM436 398h3v1h-3zM439 399h4v1h-4zM489 399h1v1h-1zM443 400h2v1h-2zM488 400h1v1h-1zM445 401h1v1h-1zM487 401h1v1h-1zM446 402h1v1h-1zM486 402h1v2h-1zM447 403h1v1h-1zM448 404h1v2h-1zM485 404h1v1h-1zM484 405h1v1h-1zM449 406h1v1h-1zM483 406h1v1h-1zM450 407h1v1h-1zM482 407h1v1h-1zM451 408h1v1h-1zM481 408h1v1h-1zM452 409h2v1h-2zM480 409h1v1h-1zM454 410h3v1h-3zM479 410h1v1h-1zM457 411h2v1h-2zM478 411h1v1h-1zM459 412h2v1h-2zM477 412h1v1h-1zM461 413h2v1h-2zM476 413h1v1h-1zM463 414h2v1h-2zM474 414h2v1h-2zM465 415h1v1h-1zM472 415h2v1h-2zM466 416h2v1h-2zM470 416h2v1h-2zM468 417h2v1h-2z" fill="#ff0000"/>
<path d="M860 120h10v1h-10zM859 121h1v2h-1zM870 121h3v1h-3zM873 122h2v1h-2zM858 123h1v2h-1zM875 123h2v1h-2zM877 124h1v2h-1zM857 125h1v2h-1zM878 126h1v2h-1zM856 127h1v2h-1zM879 128h1v2h-1zM855 129h1v2h-1zM60 130h1v1h-1zM880 130h1v1h-1zM59 131h1v1h-1zM61 131h1v2h-1zM854 131h1v2h-1zM881 131h1v2h-1zM58 132h1v1h-1zM57 133h1v1h-1zM62 133h1v1h-1zM853 133h1v2h-1zM882 133h1v2h-1zM56 134h1v1h-1zM63 134h1v2h-1zM55 135h1v1h-1zM852 135h1v2h-1zM883 135h1v2h-1zM54 136h1v1h-1zM64 136h1v1h-1zM53 137h1v1h-1zM65 137h1v2h-1zM851 137h1v2h-1zM884 137h1v1h-1zM52 138h1v1h-1zM885 138h1v1h-1zM51 139h1v1h-1zM66 139h1v1h-1zM850 139h1v2h-1zM886 139h1v1h-1zM50 140h1v1h-1zM67 140h1v2h-1zM887 140h1v1h-1zM49 141h1v1h-1zM849 141h1v2h-1zM888 141h1v2h-1zM48 142h1v2h-1zM68 142h1v1h-1zM1116 142h1v2h-1zM69 143h1v1h-1zM848 143h1v2h-1zM889 143h1v1h-1zM47 144h1v1h-1zM70 144h1v1h-1zM890 144h1v1h-1zM1115 144h1v2h-1zM46 145h1v1h-1zM71 145h1v1h-1zM708 145h1v1h-1zM847 145h1v2h-1zM891 145h1v1h-1zM45 146h1v1h-1zM72 146h1v2h-1zM707 146h1v1h-1zM709 146h2v1h-2zM892 146h1v1h-1zM1114 146h1v2h-1zM43 147h2v1h-2zM706 147h1v1h-1zM711 147h2v1h-2zM846 147h1v2h-1zM893 147h1v2h-1zM41 148h2v1h-2zM73 148h1v1h-1zM705 148h1v1h-1zM713 148h1v1h-1zM1113 148h1v2h-1zM38 149h3v1h-3zM74 149h1v1h-1zM704 149h1v2h-1zM714 149h2v1h-2zM845 149h1v2h-1zM894 149h1v1h-1zM36 150h2v1h-2zM75 150h1v1h-1zM716 150h1v1h-1zM895 150h1v1h-1zM1112 150h1v2h-1zM35 151h1v2h-1zM76 151h1v2h-1zM703 151h1v1h-1zM717 151h1v1h-1zM844 151h1v3h-1zM896 151h1v2h-1zM702 152h1v1h-1zM718 152h1v2h-1zM1111 152h1v2h-1zM34 153h1v1h-1zM77 153h1v2h-1zM701 153h1v1h-1zM897 153h1v1h-1zM33 154h1v2h-1zM700 154h1v1h-1zM719 154h1v1h-1zM843 154h1v2h-1zM898 154h1v1h-1zM1110 154h1v2h-1zM78 155h1v3h-1zM699 155h1v1h-1zM720 155h1v1h-1zM899 155h1v2h-1zM32 156h1v1h-1zM698 156h1v1h-1zM721 156h1v1h-1zM842 156h1v2h-1zM1109 156h1v2h-1zM31 157h1v2h-1zM697 157h1v1h-1zM722 157h1v2h-1zM900 157h1v2h-1zM79 158h1v3h-1zM696 158h1v1h-1zM841 158h1v2h-1zM1108 158h1v2h-1zM30 159h1v1h-1zM695 159h1v1h-1zM723 159h1v1h-1zM901 159h1v2h-1zM29 160h1v2h-1zM694 160h1v1h-1zM724 160h1v1h-1zM840 160h1v3h-1zM1107 160h1v2h-1zM80 161h1v2h-1zM693 161h1v1h-1zM725 161h1v2h-1zM902 161h1v2h-1zM28 162h1v1h-1zM692 162h1v1h-1zM1106 162h1v2h-1zM26 163h2v1h-2zM81 163h1v3h-1zM690 163h2v1h-2zM726 163h1v2h-1zM839 163h1v2h-1zM903 163h1v2h-1zM24 164h2v1h-2zM688 164h2v1h-2zM1105 164h1v2h-1zM22 165h2v1h-2zM686 165h2v1h-2zM727 165h1v2h-1zM838 165h1v2h-1zM904 165h1v2h-1zM20 166h2v1h-2zM82 166h1v3h-1zM684 166h2v1h-2zM1104 166h1v2h-1zM4 167h2v1h-2zM18 167h2v1h-2zM682 167h2v1h-2zM728 167h1v1h-1zM837 167h1v2h-1zM905 167h1v3h-1zM6 168h2v1h-2zM17 168h1v1h-1zM681 168h1v1h-1zM729 168h1v2h-1zM1103 168h1v2h-1zM8 169h2v1h-2zM15 169h2v1h-2zM83 169h1v2h-1zM679 169h2v1h-2zM836 169h1v3h-1zM10 170h2v1h-2zM13 170h2v1h-2zM677 170h2v1h-2zM730 170h1v2h-1zM906 170h1v2h-1zM1102 170h1v2h-1zM12 171h1v1h-1zM84 171h1v3h-1zM676 171h1v1h-1zM675 172h1v2h-1zM731 172h1v2h-1zM835 172h1v2h-1zM907 172h1v3h-1zM1101 172h1v2h-1zM85 174h1v3h-1zM674 174h1v2h-1zM732 174h1v1h-1zM834 174h1v3h-1zM1100 174h1v1h-1zM733 175h1v1h-1zM908 175h1v3h-1zM1099 175h1v2h-1zM673 176h1v2h-1zM734 176h1v1h-1zM86 177h1v4h-1zM735 177h1v1h-1zM833 177h1v2h-1zM1098 177h1v2h-1zM672 178h1v1h-1zM736 178h1v1h-1zM909 178h1v4h-1zM671 179h1v2h-1zM737 179h1v1h-1zM832 179h1v3h-1zM1097 179h1v2h-1zM738 180h1v1h-1zM87 181h1v3h-1zM670 181h1v2h-1zM739 181h1v1h-1zM1096 181h1v2h-1zM740 182h1v1h-1zM831 182h1v2h-1zM910 182h1v3h-1zM669 183h1v2h-1zM741 183h1v1h-1zM1095 183h1v2h-1zM88 184h1v3h-1zM742 184h1v1h-1zM830 184h1v3h-1zM668 185h1v1h-1zM743 185h1v1h-1zM911 185h1v3h-1zM1094 185h1v2h-1zM667 186h1v2h-1zM744 186h1v2h-1zM89 187h1v3h-1zM829 187h1v2h-1zM1093 187h1v2h-1zM666 188h1v2h-1zM745 188h1v1h-1zM912 188h1v4h-1zM746 189h1v1h-1zM828 189h1v2h-1zM1092 189h1v2h-1zM90 190h1v4h-1zM665 190h1v2h-1zM747 190h1v1h-1zM748 191h1v1h-1zM827 191h1v2h-1zM1090 191h2v1h-2zM664 192h1v2h-1zM749 192h2v1h-2zM913 192h1v3h-1zM1088 192h2v1h-2zM751 193h1v1h-1zM826 193h1v2h-1zM1086 193h2v1h-2zM91 194h1v3h-1zM663 194h1v2h-1zM752 194h1v1h-1zM1084 194h2v1h-2zM753 195h2v1h-2zM825 195h1v2h-1zM914 195h1v3h-1zM1082 195h2v1h-2zM662 196h1v2h-1zM755 196h1v1h-1zM1081 196h1v1h-1zM92 197h1v3h-1zM756 197h1v1h-1zM824 197h1v2h-1zM1079 197h2v1h-2zM661 198h1v2h-1zM757 198h1v1h-1zM915 198h1v4h-1zM1077 198h2v1h-2zM758 199h1v2h-1zM823 199h1v2h-1zM1076 199h1v1h-1zM93 200h1v3h-1zM660 200h1v1h-1zM1075 200h1v1h-1zM659 201h1v2h-1zM759 201h1v1h-1zM822 201h1v2h-1zM1073 201h2v1h-2zM760 202h1v1h-1zM916 202h1v3h-1zM1072 202h1v1h-1zM94 203h1v3h-1zM658 203h1v2h-1zM761 203h1v1h-1zM821 203h1v2h-1zM1071 203h1v1h-1zM762 204h1v2h-1zM1069 204h2v1h-2zM657 205h1v2h-1zM820 205h1v1h-1zM917 205h1v3h-1zM1068 205h1v1h-1zM95 206h1v3h-1zM763 206h1v1h-1zM819 206h1v1h-1zM1067 206h1v1h-1zM656 207h1v2h-1zM764 207h5v1h-5zM818 207h1v1h-1zM1066 207h1v2h-1zM769 208h4v1h-4zM817 208h1v1h-1zM918 208h1v2h-1zM96 209h1v4h-1zM655 209h1v2h-1zM773 209h2v1h-2zM816 209h1v1h-1zM1065 209h1v1h-1zM775 210h2v1h-2zM815 210h1v1h-1zM919 210h1v3h-1zM1064 210h1v1h-1zM654 211h1v2h-1zM777 211h1v1h-1zM814 211h1v1h-1zM1063 211h1v1h-1zM778 212h2v1h-2zM813 212h1v1h-1zM1062 212h1v2h-1zM97 213h1v3h-1zM653 213h1v2h-1zM780 213h2v1h-2zM812 213h1v1h-1zM920 213h1v3h-1zM782 214h3v1h-3zM811 214h1v1h-1zM1061 214h1v1h-1zM652 215h1v2h-1zM785 215h2v1h-2zM810 215h1v1h-1zM1060 215h1v1h-1zM98 216h1v3h-1zM787 216h4v1h-4zM809 216h1v1h-1zM921 216h1v3h-1zM1059 216h1v1h-1zM651 217h1v1h-1zM791 217h4v1h-4zM807 217h2v1h-2zM1057 217h2v1h-2zM650 218h1v1h-1zM795 218h4v1h-4zM806 218h1v1h-1zM1056 218h1v1h-1zM99 219h1v3h-1zM649 219h1v1h-1zM799 219h4v1h-4zM805 219h1v1h-1zM922 219h1v2h-1zM1055 219h1v1h-1zM648 220h1v2h-1zM803 220h2v1h-2zM1053 220h2v1h-2zM923 221h1v3h-1zM1044 221h9v1h-9zM100 222h1v3h-1zM647 222h1v1h-1zM1043 222h1v1h-1zM646 223h1v1h-1zM1042 223h1v1h-1zM645 224h1v1h-1zM924 224h1v3h-1zM1041 224h1v1h-1zM101 225h1v2h-1zM644 225h1v1h-1zM1040 225h1v1h-1zM643 226h1v1h-1zM1039 226h1v1h-1zM102 227h1v2h-1zM642 227h1v2h-1zM925 227h1v2h-1zM1038 227h1v1h-1zM1037 228h1v1h-1zM103 229h1v2h-1zM641 229h1v1h-1zM926 229h1v2h-1zM1036 229h1v1h-1zM640 230h1v1h-1zM1035 230h1v1h-1zM104 231h1v3h-1zM639 231h1v1h-1zM927 231h1v2h-1zM1034 231h1v1h-1zM638 232h1v2h-1zM1033 232h1v1h-1zM928 233h1v2h-1zM1031 233h2v1h-2zM105 234h1v2h-1zM637 234h1v1h-1zM1030 234h1v1h-1zM636 235h1v1h-1zM929 235h1v2h-1zM1029 235h1v1h-1zM106 236h1v2h-1zM635 236h1v2h-1zM1028 236h1v1h-1zM930 237h1v2h-1zM1027 237h1v1h-1zM107 238h1v2h-1zM634 238h1v2h-1zM1026 238h1v2h-1zM931 239h1v2h-1zM108 240h1v2h-1zM633 240h1v2h-1zM1025 240h1v1h-1zM932 241h1v3h-1zM1024 241h1v1h-1zM109 242h1v2h-1zM177 242h8v1h-8zM632 242h1v1h-1zM1023 242h1v1h-1zM171 243h6v1h-6zM185 243h5v1h-5zM631 243h1v2h-1zM1022 243h1v2h-1zM110 244h1v2h-1zM167 244h4v1h-4zM190 244h3v1h-3zM933 244h1v2h-1zM164 245h3v1h-3zM193 245h2v1h-2zM630 245h1v2h-1zM1021 245h1v1h-1zM111 246h1v2h-1zM163 246h1v1h-1zM195 246h10v1h-10zM934 246h1v2h-1zM1020 246h1v1h-1zM162 247h1v1h-1zM205 247h1v2h-1zM629 247h1v2h-1zM1019 247h1v1h-1zM112 248h1v2h-1zM161 248h1v1h-1zM935 248h1v2h-1zM1018 248h1v1h-1zM160 249h1v1h-1zM206 249h1v1h-1zM628 249h1v1h-1zM1017 249h1v1h-1zM113 250h1v2h-1zM159 250h1v1h-1zM207 250h1v2h-1zM627 250h1v2h-1zM936 250h1v2h-1zM1016 250h1v1h-1zM158 251h1v1h-1zM1015 251h1v1h-1zM114 252h1v2h-1zM157 252h1v1h-1zM208 252h1v1h-1zM626 252h1v2h-1zM937 252h1v2h-1zM1014 252h1v1h-1zM155 253h2v1h-2zM209 253h1v2h-1zM1013 253h1v1h-1zM115 254h1v2h-1zM153 254h2v1h-2zM625 254h1v1h-1zM938 254h1v2h-1zM1012 254h1v1h-1zM140 255h5v1h-5zM150 255h3v1h-3zM210 255h1v1h-1zM624 255h1v2h-1zM1011 255h1v1h-1zM116 256h1v1h-1zM139 256h1v1h-1zM145 256h5v1h-5zM211 256h1v2h-1zM939 256h1v2h-1zM1009 256h2v1h-2zM117 257h2v1h-2zM138 257h1v1h-1zM623 257h1v1h-1zM1008 257h1v1h-1zM119 258h2v1h-2zM137 258h1v1h-1zM212 258h1v2h-1zM622 258h1v2h-1zM940 258h1v2h-1zM1007 258h1v1h-1zM121 259h1v1h-1zM136 259h1v1h-1zM1005 259h2v1h-2zM122 260h2v1h-2zM135 260h1v1h-1zM213 260h1v2h-1zM621 260h1v2h-1zM941 260h1v2h-1zM1004 260h1v1h-1zM124 261h3v1h-3zM134 261h1v1h-1zM1003 261h1v1h-1zM127 262h4v1h-4zM133 262h1v1h-1zM214 262h1v2h-1zM620 262h1v1h-1zM942 262h1v2h-1zM1002 262h1v2h-1zM131 263h2v1h-2zM619 263h1v2h-1zM215 264h1v2h-1zM943 264h1v2h-1zM1001 264h1v1h-1zM540 265h9v1h-9zM618 265h1v2h-1zM1000 265h1v1h-1zM216 266h1v2h-1zM539 266h1v1h-1zM549 266h2v1h-2zM944 266h1v1h-1zM999 266h1v1h-1zM538 267h1v2h-1zM551 267h2v1h-2zM617 267h1v2h-1zM945 267h1v2h-1zM998 267h1v2h-1zM217 268h1v2h-1zM553 268h1v1h-1zM537 269h1v1h-1zM554 269h2v1h-2zM616 269h1v2h-1zM946 269h1v2h-1zM997 269h1v1h-1zM218 270h1v2h-1zM536 270h1v1h-1zM556 270h1v1h-1zM996 270h1v1h-1zM535 271h1v1h-1zM557 271h1v1h-1zM615 271h1v2h-1zM947 271h1v2h-1zM995 271h1v1h-1zM219 272h1v2h-1zM534 272h1v2h-1zM558 272h1v1h-1zM994 272h1v1h-1zM559 273h1v1h-1zM614 273h1v2h-1zM948 273h1v1h-1zM993 273h1v1h-1zM220 274h1v2h-1zM533 274h1v1h-1zM560 274h1v1h-1zM949 274h1v2h-1zM992 274h1v1h-1zM532 275h1v1h-1zM561 275h1v1h-1zM613 275h1v2h-1zM991 275h1v1h-1zM221 276h1v2h-1zM531 276h1v2h-1zM562 276h1v1h-1zM950 276h1v1h-1zM990 276h1v1h-1zM563 277h1v1h-1zM612 277h1v1h-1zM951 277h1v2h-1zM989 277h1v1h-1zM222 278h1v2h-1zM530 278h1v1h-1zM564 278h2v1h-2zM611 278h1v1h-1zM987 278h2v1h-2zM291 279h2v1h-2zM529 279h1v1h-1zM566 279h2v1h-2zM610 279h1v1h-1zM952 279h1v1h-1zM985 279h2v1h-2zM223 280h1v2h-1zM287 280h4v1h-4zM293 280h1v1h-1zM528 280h1v2h-1zM568 280h2v1h-2zM609 280h1v1h-1zM953 280h1v2h-1zM982 280h3v1h-3zM284 281h3v1h-3zM294 281h1v1h-1zM570 281h2v1h-2zM608 281h1v1h-1zM980 281h2v1h-2zM224 282h1v2h-1zM282 282h2v1h-2zM295 282h1v1h-1zM527 282h1v1h-1zM572 282h1v1h-1zM607 282h1v1h-1zM954 282h1v1h-1zM979 282h1v1h-1zM281 283h1v1h-1zM296 283h1v2h-1zM526 283h1v1h-1zM573 283h2v1h-2zM606 283h1v1h-1zM955 283h1v2h-1zM978 283h1v1h-1zM225 284h1v2h-1zM279 284h2v1h-2zM525 284h1v2h-1zM575 284h2v1h-2zM605 284h1v1h-1zM977 284h1v1h-1zM277 285h2v1h-2zM297 285h1v1h-1zM577 285h1v1h-1zM604 285h1v1h-1zM956 285h1v1h-1zM975 285h2v1h-2zM226 286h1v2h-1zM276 286h1v1h-1zM298 286h1v1h-1zM524 286h1v2h-1zM578 286h2v1h-2zM602 286h2v1h-2zM957 286h1v1h-1zM974 286h1v1h-1zM275 287h1v1h-1zM299 287h1v1h-1zM305 287h4v1h-4zM580 287h3v1h-3zM600 287h2v1h-2zM958 287h1v1h-1zM973 287h1v1h-1zM227 288h1v2h-1zM273 288h2v1h-2zM300 288h5v1h-5zM309 288h2v1h-2zM523 288h1v3h-1zM583 288h4v1h-4zM598 288h2v1h-2zM959 288h1v1h-1zM972 288h1v1h-1zM272 289h1v1h-1zM311 289h1v1h-1zM587 289h11v1h-11zM960 289h1v2h-1zM971 289h1v1h-1zM228 290h1v1h-1zM271 290h1v1h-1zM312 290h1v1h-1zM969 290h2v1h-2zM229 291h1v1h-1zM269 291h2v1h-2zM313 291h2v1h-2zM522 291h1v4h-1zM961 291h1v1h-1zM968 291h1v1h-1zM230 292h1v1h-1zM268 292h1v1h-1zM315 292h1v1h-1zM962 292h1v1h-1zM967 292h1v1h-1zM231 293h2v1h-2zM267 293h1v2h-1zM316 293h1v2h-1zM963 293h1v1h-1zM965 293h2v1h-2zM233 294h1v1h-1zM964 294h1v1h-1zM234 295h1v1h-1zM266 295h1v2h-1zM317 295h1v2h-1zM521 295h1v3h-1zM235 296h1v1h-1zM236 297h1v1h-1zM265 297h1v1h-1zM318 297h1v2h-1zM237 298h1v1h-1zM264 298h1v2h-1zM520 298h1v3h-1zM238 299h1v1h-1zM319 299h1v3h-1zM239 300h1v1h-1zM263 300h1v1h-1zM240 301h1v1h-1zM262 301h1v2h-1zM519 301h1v3h-1zM241 302h1v1h-1zM320 302h1v2h-1zM242 303h1v1h-1zM261 303h1v2h-1zM243 304h1v1h-1zM321 304h1v3h-1zM518 304h1v4h-1zM244 305h1v1h-1zM260 305h1v1h-1zM245 306h2v1h-2zM259 306h1v1h-1zM247 307h1v1h-1zM257 307h2v1h-2zM322 307h1v2h-1zM248 308h1v1h-1zM256 308h1v1h-1zM517 308h1v3h-1zM249 309h2v1h-2zM255 309h1v1h-1zM323 309h1v2h-1zM251 310h1v1h-1zM253 310h2v1h-2zM252 311h1v1h-1zM324 311h1v2h-1zM516 311h1v3h-1zM325 313h1v2h-1zM515 314h1v3h-1zM326 315h1v1h-1zM327 316h1v2h-1zM514 317h1v3h-1zM328 318h1v1h-1zM329 319h1v2h-1zM513 320h1v3h-1zM330 321h1v1h-1zM339 321h2v1h-2zM331 322h1v2h-1zM337 322h2v1h-2zM341 322h1v2h-1zM334 323h3v1h-3zM512 323h1v2h-1zM332 324h2v1h-2zM342 324h1v1h-1zM343 325h1v2h-1zM511 325h1v3h-1zM344 327h1v1h-1zM345 328h1v2h-1zM510 328h1v3h-1zM346 330h1v1h-1zM347 331h1v2h-1zM509 331h1v3h-1zM348 333h3v1h-3zM351 334h4v1h-4zM508 334h1v3h-1zM355 335h2v1h-2zM356 336h1v1h-1zM357 337h1v2h-1zM507 337h1v2h-1zM358 339h1v3h-1zM506 339h1v3h-1zM359 342h1v2h-1zM505 342h1v2h-1zM360 344h1v3h-1zM504 344h1v3h-1zM361 347h1v2h-1zM503 347h1v2h-1zM362 349h1v3h-1zM502 349h1v3h-1zM363 352h1v2h-1zM501 352h1v2h-1zM364 354h1v3h-1zM500 354h1v3h-1zM365 357h1v3h-1zM499 357h1v2h-1zM498 359h1v3h-1zM366 360h1v2h-1zM367 362h1v3h-1zM497 362h1v2h-1zM496 364h1v3h-1zM368 365h1v3h-1zM495 367h1v2h-1zM369 368h1v3h-1zM494 369h1v3h-1zM370 371h1v2h-1zM493 372h1v2h-1zM371 373h1v3h-1zM492 374h1v4h-1zM372 376h1v2h-1zM373 378h2v1h-2zM491 378h1v4h-1zM375 379h1v1h-1zM388 379h1v1h-1zM376 380h1v1h-1zM386 380h2v1h-2zM389 380h1v2h-1zM377 381h2v1h-2zM384 381h2v1h-2zM379 382h1v1h-1zM382 382h2v1h-2zM390 382h1v1h-1zM490 382h1v4h-1zM380 383h2v1h-2zM391 383h1v2h-1zM392 385h1v1h-1zM393 386h1v2h-1zM489 386h1v4h-1zM394 388h1v1h-1zM395 389h1v2h-1zM488 390h1v5h-1zM396 391h5v1h-5zM401 392h12v1h-12zM413 393h1v1h-1zM414 394h1v1h-1zM415 395h1v1h-1zM487 395h1v4h-1zM416 396h1v1h-1zM417 397h1v1h-1zM418 398h1v1h-1zM419 399h1v1h-1zM486 399h1v4h-1zM420 400h9v1h-9zM429 401h1v2h-1zM430 403h1v2h-1zM485 403h1v4h-1zM431 405h1v2h-1zM432 407h1v1h-1zM484 407h1v3h-1zM433 408h1v2h-1zM434 410h1v2h-1zM483 410h1v2h-1zM435 412h1v2h-1zM482 412h1v2h-1zM436 414h1v1h-1zM481 414h1v2h-1zM437 415h1v2h-1zM480 416h1v2h-1zM438 417h1v1h-1zM439 418h1v1h-1zM479 418h1v2h-1zM440 419h1v2h-1zM478 420h1v2h-1zM441 421h1v1h-1zM442 422h1v1h-1zM477 422h1v2h-1zM443 423h1v2h-1zM476 424h1v2h-1zM444 425h2v1h-2zM446 426h2v1h-2zM475 426h1v2h-1zM448 427h2v1h-2zM450 428h2v1h-2zM474 428h1v2h-1zM452 429h2v1h-2zM454 430h2v1h-2zM473 430h1v2h-1zM456 431h2v1h-2zM458 432h2v1h-2zM472 432h1v2h-1zM460 433h1v1h-1zM461 434h1v1h-1zM471 434h1v2h-1zM462 435h1v1h-1zM463 436h1v1h-1zM470 436h1v2h-1zM464 437h1v1h-1zM465 438h1v1h-1zM469 438h1v2h-1zM466 439h1v1h-1zM467 440h2v1h-2zM468 441h1v1h-1z" fill="#0000cd"/>
<rect x="824" y="60" width="382" height="3" fill="#ff3333"/>
<rect x="824" y="167" width="387" height="5" fill="#99cc00"/>
<rect x="776" y="242" width="441" height="3" fill="#3388dd"/>
<rect x="1130" y="29" width="9" height="1" fill="#c0c0c0"/>
<rect x="1131" y="30" width="7" height="1" fill="#c0c0c0"/>
<rect x="1132" y="31" width="5" height="1" fill="#c0c0c0"/>
<rect x="1133" y="32" width="3" height="1" fill="#c0c0c0"/>
<rect x="1134" y="33" width="1" height="1" fill="#c0c0c0"/>
<rect x="4" y="576" width="1" height="55" fill="#c0c0c0"/>
<rect x="12" y="584" width="1" height="47" fill="#c0c0c0"/>
<rect x="20" y="584" width="1" height="47" fill="#c0c0c0"/>
<rect x="28" y="584" width="1" height="47" fill="#c0c0c0"/>
<rect x="36" y="584" width="1" height="47" fill="#c0c0c0"/>
<rect x="44" y="585" width="1" height="46" fill="#c0c0c0"/>
<rect x="52" y="587" width="1" height="44" fill="#c0c0c0"/>
<rect x="60" y="588" width="1" height="43" fill="#c0c0c0"/>
<rect x="68" y="595" width="1" height="36" fill="#c0c0c0"/>
<rect x="76" y="603" width="1" height="28" fill="#c0c0c0"/>
<rect x="84" y="613" width="1" height="18" fill="#c0c0c0"/>
<rect x="92" y="620" width="1" height="11" fill="#c0c0c0"/>
<rect x="100" y="627" width="1" height="4" fill="#c0c0c0"/>
<rect x="116" y="630" width="1" height="1" fill="#c0c0c0"/>
<rect x="124" y="630" width="1" height="3" fill="#c0c0c0"/>
<rect x="132" y="630" width="1" height="3" fill="#c0c0c0"/>
<rect x="140" y="630" width="1" height="2" fill="#c0c0c0"/>
<rect x="148" y="630" width="1" height="6" fill="#c0c0c0"/>
<rect x="156" y="630" width="1" height="7" fill="#c0c0c0"/>
<rect x="164" y="630" width="1" height="5" fill="#c0c0c0"/>
<rect x="172" y="630" width="1" height="4" fill="#c0c0c0"/>
<rect x="180" y="630" width="1" height="4" fill="#c0c0c0"/>
<rect x="188" y="630" width="1" height="3" fill="#c0c0c0"/>
<rect x="196" y="630" width="1" height="5" fill="#c0c0c0"/>
<rect x="204" y="630" width="1" height="7" fill="#c0c0c0"/>
<rect x="212" y="630" width="1" height="13" fill="#c0c0c0"/>
<rect x="220" y="630" width="1" height="17" fill="#c0c0c0"/>
<rect x="228" y="630" width="1" height="20" fill="#c0c0c0"/>
<rect x="236" y="630" width="1" height="20" fill="#c0c0c0"/>
<rect x="244" y="630" width="1" height="19" fill="#c0c0c0"/>
<rect x="252" y="630" width="1" height="18" fill="#c0c0c0"/>
<rect x="260" y="630" width="1" height="13" fill="#c0c0c0"/>
<rect x="268" y="630" width="1" height="9" fill="#c0c0c0"/>
<rect x="276" y="630" width="1" height="10" fill="#c0c0c0"/>
<rect x="284" y="630" width="1" height="11" fill="#c0c0c0"/>
<rect x="292" y="630" width="1" height="11" fill="#c0c0c0"/>
<rect x="300" y="630" width="1" height="15" fill="#c0c0c0"/>
<rect x="308" y="630" width="1" height="13" fill="#c0c0c0"/>
<rect x="316" y="630" width="1" height="13" fill="#c0c0c0"/>
<rect x="324" y="630" width="1" height="17" fill="#c0c0c0"/>
<rect x="332" y="630" width="1" height="21" fill="#c0c0c0"/>
<rect x="340" y="630" width="1" height="16" fill="#c0c0c0"/>
<rect x="348" y="630" width="1" height="19" fill="#c0c0c0"/>
<rect x="356" y="630" width="1" height="22" fill="#c0c0c0"/>
<rect x="364" y="630" width="1" height="25" fill="#c0c0c0"/>
<rect x="372" y="630" width="1" height="30" fill="#c0c0c0"/>
<rect x="380" y="630" width="1" height="34" fill="#c0c0c0"/>
<rect x="388" y="630" width="1" height="28" fill="#c0c0c0"/>
<rect x="396" y="630" width="1" height="26" fill="#c0c0c0"/>
<rect x="404" y="630" width="1" height="25" fill="#c0c0c0"/>
<rect x="412" y="630" width="1" height="25" fill="#c0c0c0"/>
<rect x="420" y="630" width="1" height="28" fill="#c0c0c0"/>
<rect x="428" y="630" width="1" height="32" fill="#c0c0c0"/>
<rect x="436" y="630" width="1" height="39" fill="#c0c0c0"/>
<rect x="444" y="630" width="1" height="35" fill="#c0c0c0"/>
<rect x="452" y="630" width="1" height="32" fill="#c0c0c0"/>
<rect x="460" y="630" width="1" height="28" fill="#c0c0c0"/>
<rect x="468" y="630" width="1" height="28" fill="#c0c0c0"/>
<rect x="476" y="630" width="1" height="23" fill="#c0c0c0"/>
<rect x="484" y="630" width="1" height="15" fill="#c0c0c0"/>
<rect x="492" y="630" width="1" height="7" fill="#c0c0c0"/>
<rect x="508" y="624" width="1" height="7" fill="#c0c0c0"/>
<rect x="516" y="617" width="1" height="14" fill="#c0c0c0"/>
<rect x="524" y="612" width="1" height="19" fill="#c0c0c0"/>
<rect x="532" y="611" width="1" height="20" fill="#c0c0c0"/>
<rect x="540" y="609" width="1" height="22" fill="#c0c0c0"/>
<rect x="548" y="610" width="1" height="21" fill="#c0c0c0"/>
<rect x="556" y="612" width="1" height="19" fill="#c0c0c0"/>
<rect x="564" y="614" width="1" height="17" fill="#c0c0c0"/>
<rect x="572" y="613" width="1" height="18" fill="#c0c0c0"/>
<rect x="580" y="613" width="1" height="18" fill="#c0c0c0"/>
<rect x="588" y="614" width="1" height="17" fill="#c0c0c0"/>
<rect x="596" y="613" width="1" height="18" fill="#c0c0c0"/>
<rect x="604" y="613" width="1" height="18" fill="#c0c0c0"/>
<rect x="612" y="610" width="1" height="21" fill="#c0c0c0"/>
<rect x="620" y="607" width="1" height="24" fill="#c0c0c0"/>
<rect x="628" y="603" width="1" height="28" fill="#c0c0c0"/>
<rect x="636" y="600" width="1" height="31" fill="#c0c0c0"/>
<rect x="644" y="600" width="1" height="31" fill="#c0c0c0"/>
<rect x="652" y="600" width="1" height="31" fill="#c0c0c0"/>
<rect x="660" y="598" width="1" height="33" fill="#c0c0c0"/>
<rect x="668" y="594" width="1" height="37" fill="#c0c0c0"/>
<rect x="676" y="590" width="1" height="41" fill="#c0c0c0"/>
<rect x="684" y="590" width="1" height="41" fill="#c0c0c0"/>
<rect x="692" y="590" width="1" height="41" fill="#c0c0c0"/>
<rect x="700" y="591" width="1" height="40" fill="#c0c0c0"/>
<rect x="708" y="593" width="1" height="38" fill="#c0c0c0"/>
<rect x="716" y="597" width="1" height="34" fill="#c0c0c0"/>
<rect x="724" y="601" width="1" height="30" fill="#c0c0c0"/>
<rect x="732" y="605" width="1" height="26" fill="#c0c0c0"/>
<rect x="740" y="608" width="1" height="23" fill="#c0c0c0"/>
<rect x="748" y="612" width="1" height="19" fill="#c0c0c0"/>
<rect x="756" y="614" width="1" height="17" fill="#c0c0c0"/>
<rect x="764" y="617" width="1" height="14" fill="#c0c0c0"/>
<rect x="772" y="618" width="1" height="13" fill="#c0c0c0"/>
<rect x="780" y="622" width="1" height="9" fill="#c0c0c0"/>
<rect x="788" y="624" width="1" height="7" fill="#c0c0c0"/>
<rect x="796" y="625" width="1" height="6" fill="#c0c0c0"/>
<rect x="804" y="627" width="1" height="4" fill="#c0c0c0"/>
<rect x="812" y="623" width="1" height="8" fill="#c0c0c0"/>
<rect x="820" y="620" width="1" height="11" fill="#c0c0c0"/>
<rect x="828" y="613" width="1" height="18" fill="#c0c0c0"/>
<rect x="836" y="611" width="1" height="20" fill="#c0c0c0"/>
<rect x="844" y="608" width="1" height="23" fill="#c0c0c0"/>
<rect x="852" y="605" width="1" height="26" fill="#c0c0c0"/>
<rect x="860" y="605" width="1" height="26" fill="#c0c0c0"/>
<rect x="868" y="608" width="1" height="23" fill="#c0c0c0"/>
<rect x="876" y="611" width="1" height="20" fill="#c0c0c0"/>
<rect x="884" y="615" width="1" height="16" fill="#c0c0c0"/>
<rect x="892" y="617" width="1" height="14" fill="#c0c0c0"/>
<rect x="900" y="621" width="1" height="10" fill="#c0c0c0"/>
<rect x="908" y="626" width="1" height="5" fill="#c0c0c0"/>
<rect x="916" y="630" width="1" height="5" fill="#c0c0c0"/>
<rect x="924" y="630" width="1" height="12" fill="#c0c0c0"/>
<rect x="932" y="630" width="1" height="16" fill="#c0c0c0"/>
<rect x="940" y="630" width="1" height="19" fill="#c0c0c0"/>
<rect x="948" y="630" width="1" height="22" fill="#c0c0c0"/>
<rect x="956" y="630" width="1" height="23" fill="#c0c0c0"/>
<rect x="964" y="630" width="1" height="23" fill="#c0c0c0"/>
<rect x="972" y="630" width="1" height="23" fill="#c0c0c0"/>
<rect x="980" y="630" width="1" height="20" fill="#c0c0c0"/>
<rect x="988" y="630" width="1" height="19" fill="#c0c0c0"/>
<rect x="996" y="630" width="1" height="16" fill="#c0c0c0"/>
<rect x="1004" y="630" width="1" height="13" fill="#c0c0c0"/>
<rect x="1012" y="630" width="1" height="11" fill="#c0c0c0"/>
<rect x="1020" y="630" width="1" height="8" fill="#c0c0c0"/>
<rect x="1028" y="630" width="1" height="5" fill="#c0c0c0"/>
<rect x="1036" y="630" width="1" height="3" fill="#c0c0c0"/>
<rect x="1044" y="630" width="1" height="2" fill="#c0c0c0"/>
<rect x="1052" y="630" width="1" height="1" fill="#c0c0c0"/>
<rect x="1060" y="628" width="1" height="3" fill="#c0c0c0"/>
<rect x="1068" y="625" width="1" height="6" fill="#c0c0c0"/>
<rect x="1076" y="623" width="1" height="8" fill="#c0c0c0"/>
<rect x="1084" y="622" width="1" height="9" fill="#c0c0c0"/>
<rect x="1092" y="620" width="1" height="11" fill="#c0c0c0"/>
<rect x="1100" y="615" width="1" height="16" fill="#c0c0c0"/>
<rect x="1108" y="609" width="1" height="22" fill="#c0c0c0"/>
<rect x="1116" y="605" width="1" height="26" fill="#c0c0c0"/>
<path d="M4 576h3v1h-3zM10 577h3v1h-3zM16 578h3v1h-3zM22 579h3v1h-3zM28 580h3v1h-3zM34 581h3v1h-3zM40 581h2v1h-2zM42 582h1v1h-1zM46 582h3v1h-3zM52 583h3v1h-3zM58 584h3v1h-3zM64 585h3v1h-3zM70 586h3v1h-3zM76 587h3v1h-3zM82 589h1v1h-1zM83 590h2v1h-2zM88 592h1v1h-1zM89 593h2v1h-2zM706 593h3v1h-3zM712 593h3v1h-3zM718 593h3v1h-3zM724 593h3v1h-3zM700 594h3v1h-3zM730 594h3v1h-3zM94 595h1v1h-1zM695 595h2v1h-2zM736 595h3v1h-3zM95 596h1v1h-1zM694 596h1v1h-1zM742 596h1v1h-1zM96 597h1v1h-1zM688 597h3v1h-3zM743 597h2v1h-2zM683 598h2v1h-2zM748 598h3v1h-3zM100 599h1v1h-1zM682 599h1v1h-1zM754 599h1v1h-1zM101 600h1v1h-1zM678 600h1v1h-1zM755 600h2v1h-2zM102 601h1v1h-1zM676 601h2v1h-2zM760 601h1v1h-1zM670 602h3v1h-3zM761 602h2v1h-2zM106 603h1v1h-1zM664 603h3v1h-3zM766 603h1v1h-1zM107 604h1v1h-1zM659 604h2v1h-2zM767 604h2v1h-2zM108 605h1v1h-1zM658 605h1v1h-1zM772 605h2v1h-2zM652 606h3v1h-3zM774 606h1v1h-1zM112 607h1v1h-1zM647 607h2v1h-2zM113 608h1v1h-1zM641 608h2v1h-2zM646 608h1v1h-1zM778 608h2v1h-2zM114 609h1v1h-1zM634 609h3v1h-3zM640 609h1v1h-1zM780 609h1v1h-1zM892 609h3v1h-3zM628 610h3v1h-3zM784 610h1v1h-1zM881 610h2v1h-2zM886 610h3v1h-3zM898 610h3v1h-3zM118 611h1v1h-1zM580 611h3v1h-3zM586 611h3v1h-3zM592 611h3v1h-3zM598 611h3v1h-3zM604 611h3v1h-3zM610 611h3v1h-3zM616 611h3v1h-3zM622 611h3v1h-3zM785 611h2v1h-2zM874 611h3v1h-3zM880 611h1v1h-1zM904 611h3v1h-3zM119 612h1v1h-1zM575 612h2v1h-2zM868 612h3v1h-3zM120 613h1v1h-1zM574 613h1v1h-1zM790 613h3v1h-3zM863 613h2v1h-2zM910 613h3v1h-3zM568 614h3v1h-3zM862 614h1v1h-1zM124 615h1v1h-1zM563 615h2v1h-2zM796 615h3v1h-3zM856 615h3v1h-3zM916 615h2v1h-2zM125 616h2v1h-2zM562 616h1v1h-1zM802 616h1v1h-1zM851 616h2v1h-2zM918 616h1v1h-1zM558 617h1v1h-1zM803 617h2v1h-2zM850 617h1v1h-1zM130 618h1v1h-1zM556 618h2v1h-2zM808 618h3v1h-3zM844 618h3v1h-3zM922 618h2v1h-2zM131 619h2v1h-2zM814 619h3v1h-3zM833 619h2v1h-2zM838 619h3v1h-3zM924 619h1v1h-1zM1115 619h2v1h-2zM552 620h1v1h-1zM820 620h3v1h-3zM826 620h3v1h-3zM832 620h1v1h-1zM1114 620h1v1h-1zM136 621h1v1h-1zM550 621h2v1h-2zM928 621h1v1h-1zM137 622h2v1h-2zM929 622h1v1h-1zM1108 622h3v1h-3zM546 623h1v1h-1zM930 623h1v1h-1zM142 624h1v1h-1zM545 624h1v1h-1zM1102 624h3v1h-3zM143 625h2v1h-2zM544 625h1v1h-1zM934 625h2v1h-2zM936 626h1v1h-1zM1096 626h3v1h-3zM148 627h1v1h-1zM540 627h1v1h-1zM1091 627h2v1h-2zM149 628h2v1h-2zM538 628h2v1h-2zM940 628h1v1h-1zM1090 628h1v1h-1zM941 629h2v1h-2zM1084 629h3v1h-3zM154 630h1v1h-1zM155 631h2v1h-2zM533 631h2v1h-2zM1078 631h3v1h-3zM160 632h3v1h-3zM532 632h1v1h-1zM946 632h2v1h-2zM166 633h3v1h-3zM948 633h1v1h-1zM1072 633h3v1h-3zM172 634h3v1h-3zM178 634h3v1h-3zM184 634h3v1h-3zM190 634h1v1h-1zM1067 634h2v1h-2zM191 635h2v1h-2zM196 635h3v1h-3zM202 635h3v1h-3zM528 635h1v1h-1zM952 635h2v1h-2zM1066 635h1v1h-1zM208 636h3v1h-3zM214 636h2v1h-2zM527 636h1v1h-1zM954 636h1v1h-1zM1060 636h3v1h-3zM216 637h1v1h-1zM220 637h2v1h-2zM526 637h1v1h-1zM1055 637h2v1h-2zM222 638h1v1h-1zM226 638h2v1h-2zM958 638h1v1h-1zM1054 638h1v1h-1zM228 639h1v1h-1zM959 639h2v1h-2zM1049 639h2v1h-2zM232 640h3v1h-3zM521 640h2v1h-2zM1048 640h1v1h-1zM238 641h3v1h-3zM520 641h1v1h-1zM1044 641h1v1h-1zM244 642h2v1h-2zM317 642h2v1h-2zM322 642h3v1h-3zM328 642h3v1h-3zM964 642h2v1h-2zM1042 642h2v1h-2zM246 643h1v1h-1zM305 643h2v1h-2zM310 643h3v1h-3zM316 643h1v1h-1zM334 643h3v1h-3zM340 643h3v1h-3zM966 643h1v1h-1zM250 644h3v1h-3zM256 644h1v1h-1zM298 644h3v1h-3zM304 644h1v1h-1zM346 644h2v1h-2zM516 644h1v1h-1zM1036 644h3v1h-3zM257 645h2v1h-2zM262 645h3v1h-3zM286 645h3v1h-3zM292 645h3v1h-3zM348 645h1v1h-1zM352 645h1v1h-1zM514 645h2v1h-2zM970 645h2v1h-2zM1030 645h3v1h-3zM268 646h3v1h-3zM274 646h3v1h-3zM280 646h3v1h-3zM353 646h2v1h-2zM972 646h1v1h-1zM358 647h3v1h-3zM510 647h1v1h-1zM976 647h3v1h-3zM1024 647h3v1h-3zM364 648h3v1h-3zM508 648h2v1h-2zM982 648h1v1h-1zM1018 648h3v1h-3zM370 649h1v1h-1zM983 649h2v1h-2zM1012 649h3v1h-3zM371 650h2v1h-2zM988 650h3v1h-3zM994 650h3v1h-3zM1000 650h3v1h-3zM1006 650h3v1h-3zM376 651h3v1h-3zM503 651h2v1h-2zM382 652h1v1h-1zM502 652h1v1h-1zM383 653h2v1h-2zM388 654h3v1h-3zM498 654h1v1h-1zM394 655h3v1h-3zM400 655h1v1h-1zM496 655h2v1h-2zM401 656h2v1h-2zM406 656h3v1h-3zM412 657h3v1h-3zM491 657h2v1h-2zM418 658h3v1h-3zM490 658h1v1h-1zM424 659h3v1h-3zM430 660h3v1h-3zM473 660h2v1h-2zM478 660h3v1h-3zM484 660h3v1h-3zM436 661h3v1h-3zM442 661h3v1h-3zM448 661h3v1h-3zM454 661h3v1h-3zM460 661h3v1h-3zM466 661h3v1h-3zM472 661h1v1h-1z" fill="#ff0000"/>
<line x1="5" x2="1419" y1="716.5" y2="716.5" stroke="#c0c0c0" stroke-dasharray="3 3"/>
<line x1="5" x2="1419" y1="767.5" y2="767.5" stroke="#c0c0c0" stroke-dasharray="3 3"/>
<path d="M1108 712h9v1h-9zM1107 713h1v1h-1zM676 714h1v1h-1zM1106 714h1v1h-1zM674 715h2v1h-2zM677 715h1v2h-1zM1105 715h1v1h-1zM672 716h2v1h-2zM828 716h1v1h-1zM1103 716h2v1h-2zM670 717h2v1h-2zM678 717h1v1h-1zM827 717h1v2h-1zM829 717h1v2h-1zM1102 717h1v1h-1zM667 718h3v1h-3zM679 718h1v2h-1zM1101 718h1v1h-1zM36 719h1v1h-1zM665 719h2v1h-2zM826 719h1v2h-1zM830 719h1v1h-1zM1100 719h1v1h-1zM35 720h1v1h-1zM37 720h1v1h-1zM628 720h9v1h-9zM662 720h3v1h-3zM680 720h1v1h-1zM831 720h1v1h-1zM1099 720h1v1h-1zM33 721h2v1h-2zM38 721h1v2h-1zM626 721h2v1h-2zM637 721h1v1h-1zM660 721h2v1h-2zM681 721h1v2h-1zM825 721h1v1h-1zM832 721h1v2h-1zM1098 721h1v1h-1zM32 722h1v1h-1zM625 722h1v1h-1zM638 722h1v1h-1zM659 722h1v1h-1zM824 722h1v2h-1zM852 722h1v1h-1zM1097 722h1v1h-1zM31 723h1v1h-1zM39 723h1v1h-1zM623 723h2v1h-2zM639 723h1v1h-1zM658 723h1v1h-1zM682 723h1v1h-1zM833 723h1v1h-1zM850 723h2v1h-2zM853 723h1v1h-1zM1096 723h1v1h-1zM29 724h2v1h-2zM40 724h1v1h-1zM621 724h2v1h-2zM640 724h1v1h-1zM657 724h1v1h-1zM683 724h1v2h-1zM823 724h1v1h-1zM834 724h1v1h-1zM848 724h2v1h-2zM854 724h1v1h-1zM1095 724h1v1h-1zM12 725h17v1h-17zM41 725h1v1h-1zM620 725h1v1h-1zM641 725h1v1h-1zM656 725h1v2h-1zM822 725h1v2h-1zM835 725h1v2h-1zM846 725h2v1h-2zM855 725h1v1h-1zM1094 725h1v1h-1zM11 726h1v1h-1zM42 726h1v2h-1zM618 726h2v1h-2zM642 726h1v1h-1zM684 726h13v1h-13zM841 726h5v1h-5zM856 726h1v1h-1zM1093 726h1v1h-1zM10 727h1v1h-1zM616 727h2v1h-2zM643 727h1v1h-1zM655 727h1v1h-1zM697 727h12v1h-12zM821 727h1v2h-1zM836 727h5v1h-5zM857 727h1v1h-1zM1092 727h1v1h-1zM9 728h1v1h-1zM43 728h1v1h-1zM57 728h4v1h-4zM515 728h10v1h-10zM614 728h2v1h-2zM644 728h3v1h-3zM654 728h1v1h-1zM709 728h1v1h-1zM812 728h5v1h-5zM858 728h1v1h-1zM1090 728h2v1h-2zM7 729h2v1h-2zM44 729h13v1h-13zM61 729h1v2h-1zM511 729h4v1h-4zM525 729h2v1h-2zM612 729h2v1h-2zM647 729h4v1h-4zM653 729h1v1h-1zM710 729h1v1h-1zM811 729h1v2h-1zM817 729h4v1h-4zM859 729h1v1h-1zM1067 729h12v1h-12zM1088 729h2v1h-2zM6 730h1v1h-1zM499 730h12v1h-12zM527 730h2v1h-2zM610 730h2v1h-2zM651 730h2v1h-2zM711 730h1v1h-1zM860 730h1v1h-1zM1063 730h4v1h-4zM1079 730h4v1h-4zM1086 730h2v1h-2zM5 731h1v1h-1zM62 731h1v2h-1zM495 731h4v1h-4zM529 731h1v1h-1zM608 731h2v1h-2zM712 731h1v1h-1zM810 731h1v2h-1zM861 731h1v1h-1zM1060 731h3v1h-3zM1083 731h3v1h-3zM4 732h1v1h-1zM492 732h3v1h-3zM530 732h2v1h-2zM537 732h4v1h-4zM606 732h2v1h-2zM713 732h1v1h-1zM862 732h1v2h-1zM1059 732h1v1h-1zM63 733h1v2h-1zM490 733h2v1h-2zM532 733h5v1h-5zM541 733h2v1h-2zM595 733h11v1h-11zM714 733h1v1h-1zM809 733h1v2h-1zM1058 733h1v1h-1zM488 734h2v1h-2zM543 734h2v1h-2zM572 734h3v1h-3zM593 734h2v1h-2zM715 734h1v1h-1zM863 734h1v1h-1zM1057 734h1v1h-1zM64 735h1v2h-1zM486 735h2v1h-2zM545 735h1v1h-1zM570 735h2v1h-2zM575 735h4v1h-4zM590 735h3v1h-3zM716 735h2v1h-2zM808 735h1v1h-1zM864 735h1v1h-1zM1055 735h2v1h-2zM260 736h5v1h-5zM484 736h2v1h-2zM546 736h2v1h-2zM569 736h1v1h-1zM579 736h11v1h-11zM718 736h2v1h-2zM807 736h1v2h-1zM865 736h1v1h-1zM1033 736h5v1h-5zM1054 736h1v1h-1zM65 737h1v2h-1zM259 737h1v1h-1zM265 737h4v1h-4zM482 737h2v1h-2zM548 737h5v1h-5zM567 737h2v1h-2zM720 737h2v1h-2zM866 737h1v2h-1zM1020 737h13v1h-13zM1038 737h3v1h-3zM1053 737h1v1h-1zM164 738h2v1h-2zM258 738h1v2h-1zM269 738h1v2h-1zM480 738h2v1h-2zM553 738h8v1h-8zM565 738h2v1h-2zM722 738h2v1h-2zM729 738h6v1h-6zM771 738h2v1h-2zM806 738h1v2h-1zM996 738h2v1h-2zM1019 738h1v1h-1zM1041 738h2v1h-2zM1049 738h4v1h-4zM66 739h1v2h-1zM163 739h1v1h-1zM166 739h3v1h-3zM478 739h2v1h-2zM561 739h4v1h-4zM724 739h5v1h-5zM735 739h4v1h-4zM769 739h2v1h-2zM773 739h1v2h-1zM867 739h1v1h-1zM995 739h1v2h-1zM998 739h2v1h-2zM1018 739h1v1h-1zM1043 739h6v1h-6zM162 740h1v1h-1zM169 740h2v1h-2zM257 740h1v1h-1zM270 740h1v1h-1zM340 740h1v1h-1zM476 740h2v1h-2zM739 740h22v1h-22zM766 740h3v1h-3zM805 740h1v2h-1zM868 740h10v1h-10zM1000 740h2v1h-2zM1017 740h1v1h-1zM67 741h1v2h-1zM161 741h1v1h-1zM171 741h6v1h-6zM256 741h1v1h-1zM271 741h1v1h-1zM308 741h3v1h-3zM339 741h1v2h-1zM341 741h1v1h-1zM475 741h1v1h-1zM761 741h5v1h-5zM774 741h1v1h-1zM878 741h3v1h-3zM994 741h1v1h-1zM1002 741h2v1h-2zM1015 741h2v1h-2zM137 742h4v1h-4zM160 742h1v1h-1zM177 742h8v1h-8zM255 742h1v1h-1zM272 742h1v2h-1zM308 742h1v1h-1zM311 742h4v1h-4zM342 742h1v2h-1zM474 742h1v1h-1zM775 742h1v1h-1zM788 742h3v1h-3zM803 742h2v1h-2zM881 742h2v1h-2zM993 742h1v2h-1zM1004 742h3v1h-3zM1014 742h1v1h-1zM68 743h5v1h-5zM131 743h6v1h-6zM141 743h1v2h-1zM159 743h1v1h-1zM185 743h8v1h-8zM254 743h1v2h-1zM307 743h1v2h-1zM315 743h2v1h-2zM338 743h1v2h-1zM388 743h2v1h-2zM473 743h1v1h-1zM776 743h1v2h-1zM787 743h1v1h-1zM791 743h4v1h-4zM799 743h4v1h-4zM883 743h11v1h-11zM1007 743h4v1h-4zM1013 743h1v1h-1zM73 744h4v1h-4zM127 744h4v1h-4zM158 744h1v1h-1zM193 744h4v1h-4zM273 744h1v1h-1zM317 744h1v2h-1zM343 744h1v1h-1zM387 744h1v2h-1zM390 744h3v1h-3zM472 744h1v2h-1zM786 744h1v1h-1zM795 744h4v1h-4zM894 744h3v1h-3zM992 744h1v1h-1zM1011 744h2v1h-2zM77 745h1v1h-1zM121 745h6v1h-6zM142 745h1v1h-1zM157 745h1v1h-1zM197 745h1v1h-1zM253 745h1v1h-1zM274 745h1v1h-1zM292 745h1v1h-1zM306 745h1v2h-1zM337 745h1v2h-1zM344 745h1v1h-1zM393 745h2v1h-2zM444 745h18v1h-18zM777 745h1v1h-1zM785 745h1v1h-1zM897 745h2v1h-2zM991 745h1v2h-1zM78 746h1v2h-1zM116 746h5v1h-5zM143 746h1v1h-1zM156 746h1v1h-1zM198 746h1v1h-1zM251 746h2v1h-2zM275 746h1v2h-1zM290 746h2v1h-2zM293 746h1v2h-1zM318 746h1v1h-1zM345 746h1v1h-1zM386 746h1v1h-1zM395 746h6v1h-6zM444 746h1v1h-1zM462 746h2v1h-2zM471 746h1v1h-1zM778 746h1v1h-1zM783 746h2v1h-2zM899 746h2v1h-2zM114 747h2v1h-2zM144 747h1v2h-1zM155 747h1v1h-1zM199 747h1v1h-1zM249 747h2v1h-2zM288 747h2v1h-2zM305 747h1v2h-1zM319 747h1v2h-1zM336 747h1v1h-1zM346 747h1v2h-1zM385 747h1v2h-1zM401 747h8v1h-8zM443 747h1v2h-1zM464 747h2v1h-2zM470 747h1v1h-1zM779 747h1v2h-1zM782 747h1v1h-1zM901 747h2v1h-2zM990 747h1v1h-1zM79 748h1v1h-1zM113 748h1v1h-1zM154 748h1v1h-1zM200 748h1v2h-1zM236 748h5v1h-5zM246 748h3v1h-3zM276 748h5v1h-5zM286 748h2v1h-2zM294 748h1v2h-1zM335 748h1v2h-1zM409 748h4v1h-4zM466 748h2v1h-2zM469 748h1v1h-1zM781 748h1v1h-1zM903 748h2v1h-2zM979 748h4v1h-4zM989 748h1v2h-1zM80 749h1v1h-1zM111 749h2v1h-2zM145 749h1v1h-1zM153 749h1v1h-1zM235 749h1v1h-1zM241 749h5v1h-5zM281 749h5v1h-5zM304 749h1v2h-1zM320 749h1v1h-1zM347 749h1v1h-1zM384 749h1v1h-1zM413 749h1v1h-1zM442 749h1v2h-1zM468 749h1v1h-1zM780 749h1v1h-1zM905 749h1v1h-1zM977 749h2v1h-2zM983 749h4v1h-4zM81 750h1v1h-1zM109 750h2v1h-2zM146 750h1v1h-1zM151 750h2v1h-2zM201 750h1v1h-1zM234 750h1v2h-1zM295 750h1v1h-1zM321 750h1v2h-1zM334 750h1v2h-1zM348 750h3v1h-3zM383 750h1v2h-1zM414 750h1v1h-1zM906 750h2v1h-2zM974 750h3v1h-3zM987 750h2v1h-2zM82 751h1v2h-1zM91 751h18v1h-18zM147 751h1v2h-1zM150 751h1v1h-1zM202 751h1v1h-1zM296 751h1v2h-1zM303 751h1v2h-1zM351 751h4v1h-4zM415 751h1v1h-1zM441 751h1v2h-1zM908 751h1v1h-1zM969 751h5v1h-5zM89 752h2v1h-2zM149 752h1v1h-1zM203 752h1v1h-1zM233 752h1v1h-1zM322 752h1v1h-1zM333 752h1v2h-1zM355 752h4v1h-4zM382 752h1v1h-1zM416 752h1v2h-1zM909 752h1v2h-1zM963 752h6v1h-6zM83 753h1v1h-1zM86 753h3v1h-3zM148 753h1v1h-1zM204 753h1v1h-1zM232 753h1v1h-1zM297 753h1v1h-1zM302 753h1v2h-1zM323 753h1v2h-1zM359 753h4v1h-4zM381 753h1v2h-1zM440 753h1v2h-1zM959 753h4v1h-4zM84 754h2v1h-2zM205 754h2v1h-2zM231 754h1v1h-1zM298 754h1v2h-1zM329 754h4v1h-4zM363 754h3v1h-3zM417 754h1v1h-1zM427 754h2v1h-2zM910 754h1v2h-1zM956 754h3v1h-3zM207 755h1v1h-1zM230 755h1v2h-1zM301 755h1v2h-1zM324 755h5v1h-5zM366 755h3v1h-3zM379 755h2v1h-2zM418 755h1v1h-1zM425 755h2v1h-2zM429 755h1v1h-1zM439 755h1v2h-1zM932 755h5v1h-5zM954 755h2v1h-2zM208 756h1v1h-1zM299 756h1v2h-1zM369 756h2v1h-2zM375 756h4v1h-4zM419 756h1v1h-1zM422 756h3v1h-3zM430 756h1v1h-1zM911 756h1v1h-1zM931 756h1v1h-1zM937 756h5v1h-5zM953 756h1v1h-1zM209 757h2v1h-2zM229 757h1v1h-1zM300 757h1v2h-1zM371 757h4v1h-4zM420 757h2v1h-2zM431 757h1v1h-1zM438 757h1v2h-1zM912 757h1v2h-1zM930 757h1v1h-1zM942 757h3v1h-3zM951 757h2v1h-2zM211 758h1v1h-1zM217 758h12v1h-12zM432 758h1v1h-1zM929 758h1v1h-1zM945 758h2v1h-2zM949 758h2v1h-2zM212 759h5v1h-5zM433 759h1v1h-1zM437 759h1v2h-1zM913 759h1v1h-1zM927 759h2v1h-2zM947 759h2v1h-2zM434 760h1v1h-1zM914 760h1v2h-1zM926 760h1v1h-1zM435 761h2v1h-2zM925 761h1v1h-1zM436 762h1v1h-1zM915 762h1v2h-1zM923 762h2v1h-2zM919 763h4v1h-4zM916 764h3v1h-3z" fill="#1e90ff"/>
<rect x="3" y="28" width="1417" height="1" fill="#000"/>
<rect x="3" y="568" width="1417" height="1" fill="#000"/>
<rect x="3" y="570" width="1417" height="1" fill="#000"/>
<rect x="3" y="674" width="1417" height="1" fill="#000"/>
<rect x="3" y="676" width="1417" height="1" fill="#000"/>
<rect x="3" y="806" width="1417" height="1" fill="#000"/>
<rect x="3" y="28" width="1" height="779" fill="#000"/>
<rect x="1419" y="28" width="1" height="779" fill="#000"/>
<rect x="3" y="569" width="1417" height="1" fill="#fff"/>
<rect x="3" y="675" width="1417" height="1" fill="#fff"/>
<rect x="1420" y="37" width="2" height="1" fill="#000"/>
<rect x="1420" y="70" width="2" height="1" fill="#000"/>
<rect x="1420" y="103" width="2" height="1" fill="#000"/>
<rect x="1420" y="136" width="2" height="1" fill="#000"/>
<rect x="1420" y="169" width="2" height="1" fill="#000"/>
<rect x="1420" y="202" width="2" height="1" fill="#000"/>
<rect x="1420" y="235" width="2" height="1" fill="#000"/>
<rect x="1420" y="268" width="2" height="1" fill="#000"/>
<rect x="1420" y="301" width="2" height="1" fill="#000"/>
<rect x="1420" y="334" width="2" height="1" fill="#000"/>
<rect x="1420" y="367" width="2" height="1" fill="#000"/>
<rect x="1420" y="400" width="2" height="1" fill="#000"/>
<rect x="1420" y="433" width="2" height="1" fill="#000"/>
<rect x="1420" y="466" width="2" height="1" fill="#000"/>
<rect x="1420" y="499" width="2" height="1" fill="#000"/>
<rect x="1420" y="532" width="2" height="1" fill="#000"/>
<rect x="1420" y="565" width="2" height="1" fill="#000"/>
<rect x="1420" y="630" width="2" height="1" fill="#000"/>
<rect x="1420" y="570" width="1" height="1" fill="#000"/>
<rect x="1420" y="674" width="1" height="1" fill="#000"/>
<rect x="1420" y="676" width="1" height="1" fill="#000"/>
<rect x="1420" y="806" width="1" height="1" fill="#000"/>
<rect x="4" y="807" width="1" height="3" fill="#000"/>
<rect x="68" y="807" width="1" height="3" fill="#000"/>
<rect x="132" y="807" width="1" height="3" fill="#000"/>
<rect x="196" y="807" width="1" height="3" fill="#000"/>
<rect x="260" y="807" width="1" height="3" fill="#000"/>
<rect x="324" y="807" width="1" height="3" fill="#000"/>
<rect x="388" y="807" width="1" height="3" fill="#000"/>
<rect x="452" y="807" width="1" height="3" fill="#000"/>
<rect x="516" y="807" width="1" height="3" fill="#000"/>
<rect x="580" y="807" width="1" height="3" fill="#000"/>
<rect x="644" y="807" width="1" height="3" fill="#000"/>
<rect x="708" y="807" width="1" height="3" fill="#000"/>
<rect x="772" y="807" width="1" height="3" fill="#000"/>
<rect x="836" y="807" width="1" height="3" fill="#000"/>
<rect x="900" y="807" width="1" height="3" fill="#000"/>
<rect x="964" y="807" width="1" height="3" fill="#000"/>
<rect x="1028" y="807" width="1" height="3" fill="#000"/>
<rect x="1092" y="807" width="1" height="3" fill="#000"/>
</svg>
<div class="t k" style="left:1425.3px;top:33.70px;font-size:9.8px;line-height:9.8px;color:#000;transform:scaleX(0.9286);transform-origin:0 0;">1.01425</div>
<div class="t k" style="left:1425.3px;top:66.70px;font-size:9.8px;line-height:9.8px;color:#000;transform:scaleX(0.9286);transform-origin:0 0;">1.01155</div>
<div class="t k" style="left:1425.3px;top:99.70px;font-size:9.8px;line-height:9.8px;color:#000;transform:scaleX(0.9286);transform-origin:0 0;">1.00880</div>
<div class="t k" style="left:1425.3px;top:132.70px;font-size:9.8px;line-height:9.8px;color:#000;transform:scaleX(0.9286);transform-origin:0 0;">1.00610</div>
<div class="t k" style="left:1425.3px;top:165.70px;font-size:9.8px;line-height:9.8px;color:#000;transform:scaleX(0.9286);transform-origin:0 0;">1.00335</div>
<div class="t k" style="left:1425.3px;top:198.70px;font-size:9.8px;line-height:9.8px;color:#000;transform:scaleX(0.9286);transform-origin:0 0;">1.00065</div>
<div class="t k" style="left:1425.3px;top:231.70px;font-size:9.8px;line-height:9.8px;color:#000;transform:scaleX(0.9286);transform-origin:0 0;">0.99790</div>
<div class="t k" style="left:1425.3px;top:264.70px;font-size:9.8px;line-height:9.8px;color:#000;transform:scaleX(0.9286);transform-origin:0 0;">0.99520</div>
<div class="t k" style="left:1425.3px;top:297.70px;font-size:9.8px;line-height:9.8px;color:#000;transform:scaleX(0.9286);transform-origin:0 0;">0.99250</div>
<div class="t k" style="left:1425.3px;top:330.70px;font-size:9.8px;line-height:9.8px;color:#000;transform:scaleX(0.9286);transform-origin:0 0;">0.98975</div>
<div class="t k" style="left:1425.3px;top:363.70px;font-size:9.8px;line-height:9.8px;color:#000;transform:scaleX(0.9286);transform-origin:0 0;">0.98705</div>
<div class="t k" style="left:1425.3px;top:396.70px;font-size:9.8px;line-height:9.8px;color:#000;transform:scaleX(0.9286);transform-origin:0 0;">0.98430</div>
<div class="t k" style="left:1425.3px;top:429.70px;font-size:9.8px;line-height:9.8px;color:#000;transform:scaleX(0.9286);transform-origin:0 0;">0.98160</div>
<div class="t k" style="left:1425.3px;top:462.70px;font-size:9.8px;line-height:9.8px;color:#000;transform:scaleX(0.9286);transform-origin:0 0;">0.97885</div>
<div class="t k" style="left:1425.3px;top:495.70px;font-size:9.8px;line-height:9.8px;color:#000;transform:scaleX(0.9286);transform-origin:0 0;">0.97615</div>
<div class="t k" style="left:1425.3px;top:528.70px;font-size:9.8px;line-height:9.8px;color:#000;transform:scaleX(0.9286);transform-origin:0 0;">0.97340</div>
<div class="t k" style="left:1425.3px;top:561.70px;font-size:9.8px;line-height:9.8px;color:#000;transform:scaleX(0.9286);transform-origin:0 0;">0.97070</div>
<div class="t k" style="left:1423.2px;top:573.70px;font-size:9.8px;line-height:9.8px;color:#000;transform:scaleX(0.9286);transform-origin:0 0;">0.005571</div>
<div class="t k" style="left:1423.2px;top:626.70px;font-size:9.8px;line-height:9.8px;color:#000;transform:scaleX(0.9286);transform-origin:0 0;">0.00</div>
<div class="t k" style="left:1423.5px;top:663.70px;font-size:9.8px;line-height:9.8px;color:#000;transform:scaleX(0.9286);transform-origin:0 0;">-0.004224</div>
<div class="t k" style="left:1424px;top:679.70px;font-size:9.8px;line-height:9.8px;color:#000;transform:scaleX(0.9286);transform-origin:0 0;">100</div>
<div class="t k" style="left:1422.6px;top:712.70px;font-size:9.8px;line-height:9.8px;color:#000;transform:scaleX(0.9286);transform-origin:0 0;">70</div>
<div class="t k" style="left:1422.6px;top:763.70px;font-size:9.8px;line-height:9.8px;color:#000;transform:scaleX(0.9286);transform-origin:0 0;">30</div>
<div class="t k" style="left:1423.3px;top:795.70px;font-size:9.8px;line-height:9.8px;color:#000;transform:scaleX(0.9286);transform-origin:0 0;">0</div>
<div class="t k" style="left:3.2px;top:811.70px;font-size:9.8px;line-height:9.8px;color:#000;transform:scaleX(0.9847);transform-origin:0 0;">7 Nov 2018</div>
<div class="t k" style="left:67.2px;top:811.70px;font-size:9.8px;line-height:9.8px;color:#000;transform:scaleX(0.9847);transform-origin:0 0;">16 Nov 2018</div>
<div class="t k" style="left:131.2px;top:811.70px;font-size:9.8px;line-height:9.8px;color:#000;transform:scaleX(0.9847);transform-origin:0 0;">26 Nov 2018</div>
<div class="t k" style="left:195.2px;top:811.70px;font-size:9.8px;line-height:9.8px;color:#000;transform:scaleX(0.9388);transform-origin:0 0;">5 Dec 2018</div>
<div class="t k" style="left:259.2px;top:811.70px;font-size:9.8px;line-height:9.8px;color:#000;transform:scaleX(0.9388);transform-origin:0 0;">14 Dec 2018</div>
<div class="t k" style="left:323.2px;top:811.70px;font-size:9.8px;line-height:9.8px;color:#000;transform:scaleX(0.9388);transform-origin:0 0;">24 Dec 2018</div>
<div class="t k" style="left:387.2px;top:811.70px;font-size:9.8px;line-height:9.8px;color:#000;transform:scaleX(0.9388);transform-origin:0 0;">2 Jan 2019</div>
<div class="t k" style="left:451.2px;top:811.70px;font-size:9.8px;line-height:9.8px;color:#000;transform:scaleX(0.9388);transform-origin:0 0;">11 Jan 2019</div>
<div class="t k" style="left:515.2px;top:811.70px;font-size:9.8px;line-height:9.8px;color:#000;transform:scaleX(0.9388);transform-origin:0 0;">21 Jan 2019</div>
<div class="t k" style="left:579.2px;top:811.70px;font-size:9.8px;line-height:9.8px;color:#000;transform:scaleX(0.9388);transform-origin:0 0;">30 Jan 2019</div>
<div class="t k" style="left:643.2px;top:811.70px;font-size:9.8px;line-height:9.8px;color:#000;transform:scaleX(0.9561);transform-origin:0 0;">8 Feb 2019</div>
<div class="t k" style="left:707.2px;top:811.70px;font-size:9.8px;line-height:9.8px;color:#000;transform:scaleX(0.9561);transform-origin:0 0;">18 Feb 2019</div>
<div class="t k" style="left:771.2px;top:811.70px;font-size:9.8px;line-height:9.8px;color:#000;transform:scaleX(0.9561);transform-origin:0 0;">27 Feb 2019</div>
<div class="t k" style="left:835.2px;top:811.70px;font-size:9.8px;line-height:9.8px;color:#000;transform:scaleX(0.9520);transform-origin:0 0;">8 Mar 2019</div>
<div class="t k" style="left:899.2px;top:811.70px;font-size:9.8px;line-height:9.8px;color:#000;transform:scaleX(0.9520);transform-origin:0 0;">18 Mar 2019</div>
<div class="t k" style="left:963.2px;top:811.70px;font-size:9.8px;line-height:9.8px;color:#000;transform:scaleX(0.9520);transform-origin:0 0;">27 Mar 2019</div>
<div class="t k" style="left:1027.2px;top:811.70px;font-size:9.8px;line-height:9.8px;color:#000;transform:scaleX(0.9622);transform-origin:0 0;">5 Apr 2019</div>
<div class="t k" style="left:1091.2px;top:811.70px;font-size:9.8px;line-height:9.8px;color:#000;transform:scaleX(0.9622);transform-origin:0 0;">15 Apr 2019</div>
<div class="t k" style="left:19.3px;top:32.70px;font-size:9.8px;line-height:9.8px;color:#000;transform:scaleX(0.9898);transform-origin:0 0;-webkit-text-stroke:0.15px #000">USDCHF-,Daily</div>
<div class="t k" style="left:93.6px;top:32.70px;font-size:9.8px;line-height:9.8px;color:#000;transform:scaleX(0.9439);transform-origin:0 0;">1.01058 1.01072 1.01033 1.01053</div>
<div class="t k" style="left:8px;top:575.70px;font-size:9.8px;line-height:9.8px;color:#000;transform:scaleX(0.9541);transform-origin:0 0;">MACD(12,26,9) 0.002495 0.001023</div>
<div class="t k" style="left:8px;top:681.70px;font-size:9.8px;line-height:9.8px;color:#000;transform:scaleX(0.9541);transform-origin:0 0;">RSI(14) 72.7742</div>
<!-- current price label -->
<div class="abs" style="left:1421px;top:77px;width:41px;height:11px;background:#000"></div>
<div class="t k" style="left:1425.3px;top:78.70px;font-size:9.8px;line-height:9.8px;color:#fff;transform:scaleX(0.9286);transform-origin:0 0;-webkit-text-stroke:0.2px #fff">1.01053</div>
<!-- one click trading panel -->
<div class="abs" style="left:5px;top:46px;width:223px;height:68px;background:#fff"></div>
<div class="abs" style="left:7px;top:48px;width:219px;height:64px;background:linear-gradient(#5656fc 0,#3c3ce4 23px,#3636de 25px,#0000a6 64px)"></div>
<div class="abs" style="left:59px;top:48px;width:115px;height:24px;background:#fff"></div>
<div class="abs" style="left:116px;top:72px;width:2px;height:40px;background:#fff"></div>
<div class="abs" style="left:7px;top:48px;width:52px;height:1px;background:#2828c8"></div>
<div class="abs" style="left:174px;top:48px;width:52px;height:1px;background:#2828c8"></div>
<div class="abs" style="left:7px;top:48px;width:1px;height:64px;background:linear-gradient(#2828c8,#0000a0)"></div>
<div class="abs" style="left:59px;top:72px;width:57px;height:1px;background:#1a1ab8"></div>
<div class="abs" style="left:118px;top:72px;width:56px;height:1px;background:#1a1ab8"></div>
<div class="abs" style="left:11px;top:71px;width:44px;height:1px;background:#1c1cb4"></div>
<div class="abs" style="left:178px;top:71px;width:44px;height:1px;background:#1c1cb4"></div>
<div class="abs" style="left:11px;top:72px;width:44px;height:1px;background:#8484f0"></div>
<div class="abs" style="left:178px;top:72px;width:44px;height:1px;background:#8484f0"></div>
<div class="abs" style="left:61px;top:48px;width:111px;height:22px;box-sizing:border-box;border:1px solid #ababab;background:#fff"></div>
<div class="abs" style="left:63px;top:50px;width:19px;height:18px;background:linear-gradient(#f3f3f3,#e0e0e0 47%,#d2d2d2 53%,#cbcbcb);"></div>
<div class="abs" style="left:152px;top:50px;width:19px;height:18px;background:linear-gradient(#f3f3f3,#e0e0e0 47%,#d2d2d2 53%,#cbcbcb);"></div>
<div class="abs" style="left:82px;top:49px;width:1px;height:20px;background:#c8c8c8"></div>
<div class="abs" style="left:151px;top:49px;width:1px;height:20px;background:#c8c8c8"></div>
<svg class="abs" style="left:0;top:0" width="240" height="120"><polygon points="69,57 74.6,57 71.8,60.4" fill="#5566cc"/><polygon points="158,60.4 163.6,60.4 160.8,57" fill="#6878cc"/><polygon points="7.3,39 13.7,39 10.5,34.6" fill="#000"/></svg>
<div class="t" style="left:122.2px;top:51px;font-size:13px;line-height:15px;color:#000;transform:scaleX(0.95);transform-origin:100% 0">1.00</div>
<div class="t" style="left:19px;top:52px;font-size:13px;line-height:15px;color:#fff;transform:scaleX(0.84);transform-origin:0 0">SELL</div>
<div class="t" style="left:187.8px;top:52px;font-size:13px;line-height:15px;color:#fff;transform:scaleX(0.86);transform-origin:0 0">BUY</div>
<div class="t" style="left:27px;top:93px;font-size:12px;line-height:12px;color:#fff;font-weight:bold;letter-spacing:0px">1.01</div>
<div class="t" style="left:137.5px;top:93px;font-size:12px;line-height:12px;color:#fff;font-weight:bold;letter-spacing:0px">1.01</div>
<div class="t" style="left:54px;top:73px;font-size:34px;line-height:34px;color:#fff;transform:scaleX(0.91);transform-origin:0 0">05</div>
<div class="t" style="left:165px;top:73px;font-size:34px;line-height:34px;color:#fff;transform:scaleX(0.91);transform-origin:0 0">07</div>
<div class="t" style="left:95px;top:77px;font-size:11px;line-height:11px;color:#fff;font-weight:bold">3</div>
<div class="t" style="left:206px;top:77px;font-size:11px;line-height:11px;color:#fff;font-weight:bold">3</div>
<!-- bottom tab bar -->
<div class="abs" style="left:0;top:827px;width:1466px;height:1px;background:#e8e8e8"></div>
<div class="abs" style="left:0;top:828px;width:1466px;height:1px;background:#fff"></div>
<div class="abs" style="left:0;top:829px;width:1466px;height:1px;background:#000"></div>
<div class="abs" style="left:0;top:830px;width:1466px;height:19px;background:#f0f0f0"></div>
<div class="abs" style="left:0;top:849px;width:1466px;height:2px;background:#fbfbfb"></div>
<div class="abs" style="left:0;top:830px;width:1px;height:18px;background:#696969"></div>
<div class="abs" style="left:221px;top:829px;width:108px;height:19px;box-sizing:border-box;background:#fff;border:1px solid #000;border-top:none"></div>
<div class="tab" style="left:16.1px;font-size:12.15px">EURUSD-,Daily</div>
<div class="tab" style="left:123.2px;font-size:12.25px">AUDUSD-,Daily</div>
<div class="tab" style="left:233px;color:#000">USDCHF-,Daily</div>
<div class="tab" style="left:340.2px;font-size:12.27px">USDCAD-,Daily</div>
<div class="tab" style="left:449.1px;font-size:12.45px">USDCNH-,Daily</div>
<div class="sep" style="left:113px"></div><div class="sep" style="left:437px"></div><div class="sep" style="left:550px"></div>
<svg class="abs" style="left:1430px;top:830px" width="36" height="19"><polygon points="8.3,4.5 8.3,11.5 4.7,8" fill="#a0a0a0"/><polygon points="23.7,4.5 23.7,11.5 27.3,8" fill="#a0a0a0"/></svg>
</body></html>
